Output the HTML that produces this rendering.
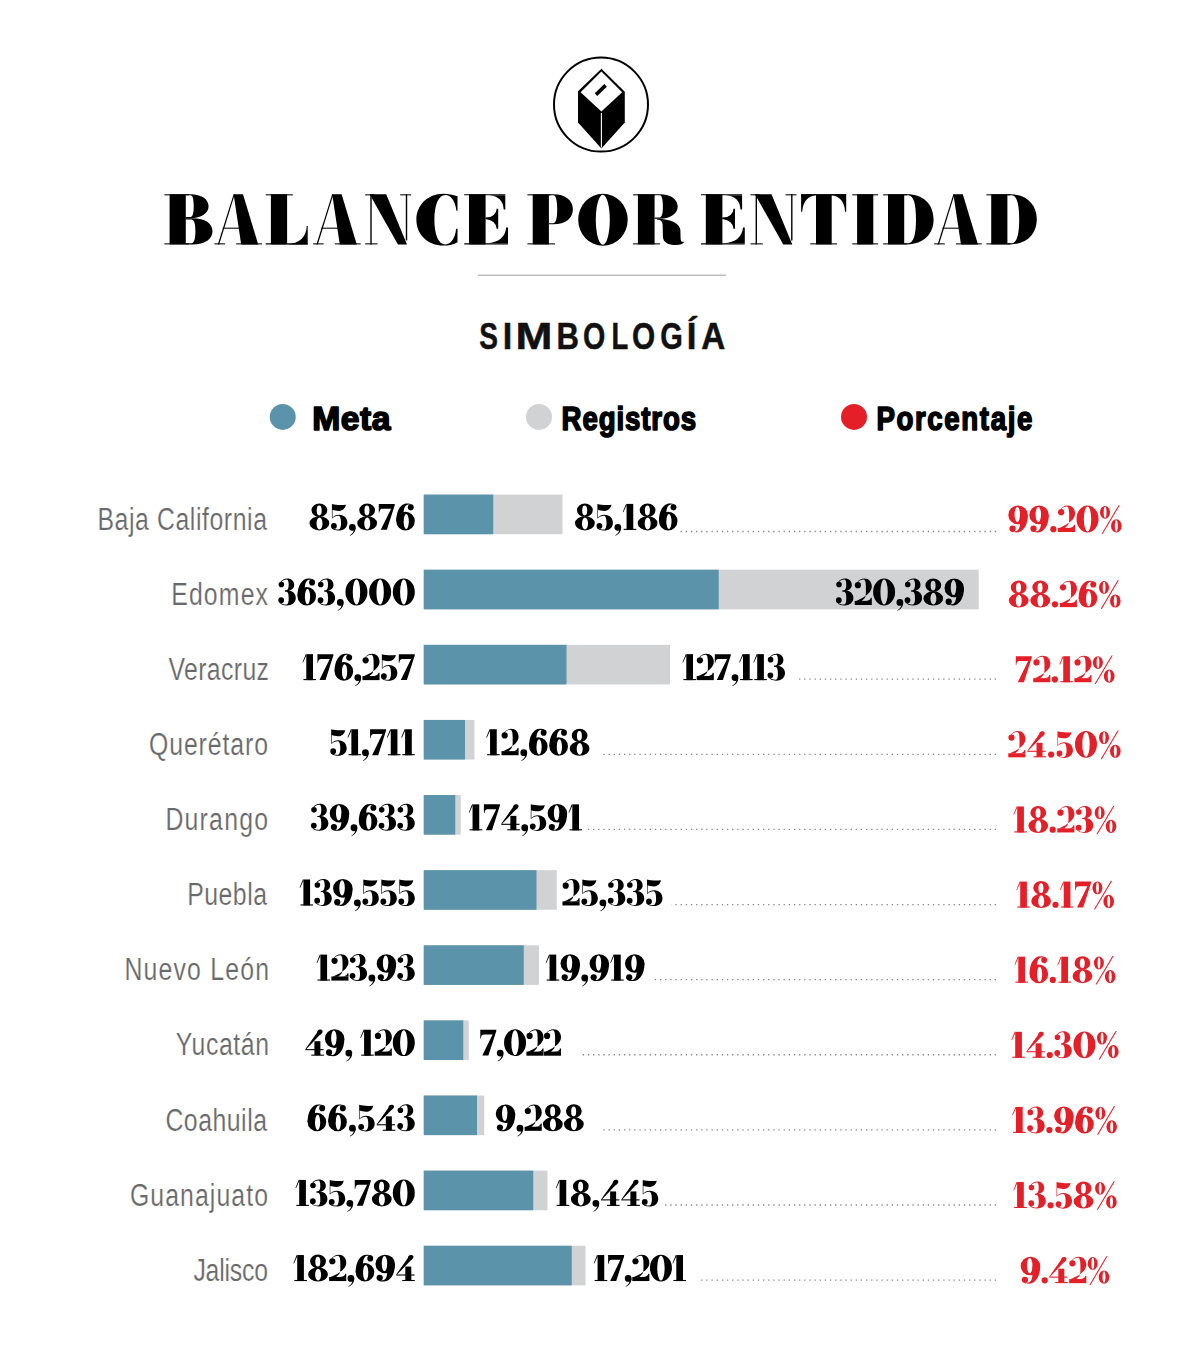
<!DOCTYPE html>
<html><head><meta charset="utf-8"><style>
html,body{margin:0;padding:0;background:#fff;width:1200px;height:1372px;overflow:hidden}
svg{display:block}
.title{font-family:"Liberation Serif",serif;font-weight:700;font-size:71.8px;fill:#000;stroke:#000;stroke-width:2.5px;stroke-linejoin:miter}
.num{font-family:"Liberation Serif",serif;font-weight:700;font-size:37.9px;fill:#000;stroke:#000;stroke-width:0.9px}
.lab{font-family:"Liberation Sans",sans-serif;font-weight:400;font-size:31px;fill:#68696b;stroke:#fff;stroke-width:0.2px}
.simb{font-family:"Liberation Sans",sans-serif;font-weight:700;font-size:37.8px;fill:#111;stroke:#111;stroke-width:0.5px}
.leg{font-family:"Liberation Sans",sans-serif;font-weight:700;font-size:33px;fill:#000;stroke:#000;stroke-width:1.6px;stroke-linejoin:round}
.pct{font-family:"Liberation Serif",serif;font-weight:700;font-size:37.9px;fill:#e3202b;stroke:#e3202b;stroke-width:0.9px}
.dots{stroke:#858585;stroke-width:1.3;stroke-dasharray:1.3 3.85}
</style></head><body>
<svg width="1200" height="1372" viewBox="0 0 1200 1372">
<rect width="1200" height="1372" fill="#fff"/>

<circle cx="601" cy="104.6" r="47" fill="none" stroke="#000" stroke-width="2"/>
<polygon points="601.4,68.8 624.8,91.7 624.8,122.4 601.4,148.6 578,122.4 578,91.3" fill="#000"/>
<polygon points="601.4,71.6 622.2,92.2 601.4,111.6 580.6,92.2" fill="#fff"/>
<line x1="596" y1="94.6" x2="605.6" y2="85.4" stroke="#000" stroke-width="3.6"/>
<line x1="601.4" y1="113" x2="601.4" y2="147.5" stroke="#fff" stroke-width="1.1"/>
<g fill="#000" fill-rule="evenodd"><g transform="matrix(1 0 0 1.002 164.4 194.3)"><path d="M0,0H24.5V1.05H0Z"/><path d="M0,48.95H24.5V50H0Z"/><path d="M5.2,0H21.4V50H5.2Z"/><path d="M21.4,0H26C37,0 44.2,5 44.2,11.9C44.2,18.8 37,23.9 26,23.9H21.4Z M21.4,1.05H26C28.5,1.05 29.3,5.5 29.3,11.9C29.3,18.3 28.5,22.7 26,22.7H21.4Z"/><path d="M21.4,23.9H28C41,23.9 48.1,29.2 48.1,36.9C48.1,44.6 41,50 28,50H21.4Z M21.4,25.1H27C30,25.1 31,30 31,37C31,44 30,48.95 27,48.95H21.4Z"/></g><g transform="matrix(1 0 0 1.002 214.2 194.3)"><path d="M19.4,0H28.8L44,50H27Z"/><path d="M19.4,0H20.6L5.0,50H3.6Z"/><path d="M8.5,33.3H36V34.349999999999994H8.5Z"/><path d="M0.2,48.95H10.8V50H0.2Z"/><path d="M22,48.95H47.8V50H22Z"/></g><g transform="matrix(1 0 0 1.002 265.7 194.3)"><path d="M0,0H27.1V1.05H0Z"/><path d="M5.2,0H21.4V50H5.2Z"/><path d="M0,48.95H42V50H0Z"/><path d="M21,50Q40.5,48.5 41,31.7H42V50Z"/></g><g transform="matrix(1 0 0 1.002 312.8 194.3)"><path d="M19.4,0H28.8L44,50H27Z"/><path d="M19.4,0H20.6L5.0,50H3.6Z"/><path d="M8.5,33.3H36V34.349999999999994H8.5Z"/><path d="M0.2,48.95H10.8V50H0.2Z"/><path d="M22,48.95H47.8V50H22Z"/></g><g transform="matrix(1 0 0 1.002 365.2 194.3)"><path d="M5.1,0H6.5V50H5.1Z"/><path d="M0,48.95H12.3V50H0Z"/><path d="M0,0H9V1.05H0Z"/><path d="M4.4,0H21L41.8,50H32.8Z"/><path d="M40.6,0H42V46H40.6Z"/><path d="M35,0H46V1.05H35Z"/></g><g transform="matrix(1 0 0 1.002 416.4 194.3)"><path d="M41.1,2C36.5,0.2 32,-0.6 27,-0.6C11,-0.6 0,11 0,25.4C0,39.8 11,51.2 27,51.2C33,51.2 37.5,50 41.1,47.8V34.5H39.7C38.8,44 34.5,50 29,50C22,50 18,40 18,25.3C18,10.6 22,0.6 29,0.6C34,0.6 39,6 40,16.5H41.1Z"/></g><g transform="matrix(1 0 0 1.002 464.2 194.3)"><path d="M0,0H41.1V1.05H0Z"/><path d="M4.8,0H21.4V50H4.8Z"/><path d="M25,1.05Q38.5,2 39.5,15.1H41.1V1.05Z"/><path d="M21.4,23.3H33.5V24.35H21.4Z"/><path d="M21.4,23.3Q32,22.5 32.5,14.3H34V34.4H32.5Q32,26 21.4,24.55Z"/><path d="M0,48.95H43.8V50H0Z"/><path d="M23,48.95Q40.5,47.5 42,33.1H43.8V48.95Z"/></g><g transform="matrix(1 0 0 1.002 527.4 194.3)"><path d="M0,0H23.2V1.05H0Z"/><path d="M5.3,0H21.5V50H5.3Z"/><path d="M0,48.95H27.6V50H0Z"/><path d="M21.5,0H26C38,0 45.5,6 45.5,15C45.5,24 38,30 26,30H21.5Z M21.5,1.05H26C28.7,1.05 29.8,7 29.8,15C29.8,23 28.7,28.8 26,28.8H21.5Z"/></g><g transform="matrix(1 0 0 1.002 578.2 194.3)"><path d="M0,25.4A24.75,26 0 1 0 49.5,25.4A24.75,26 0 1 0 0,25.4Z M17.6,25.4A7,24.9 0 1 0 31.6,25.4A7,24.9 0 1 0 17.6,25.4Z"/></g><g transform="matrix(1 0 0 1.002 633.1 194.3)"><path d="M0,0H21.9V1.05H0Z"/><path d="M4.8,0H21.5V50H4.8Z"/><path d="M0,48.95H27.1V50H0Z"/><path d="M21.5,0H27C38,0 44.6,5.5 44.6,12.2C44.6,18.9 38,24.3 27,24.3H21.5Z M21.5,1.05H26.5C29,1.05 29.8,6 29.8,12.2C29.8,18.4 29,23.1 26.5,23.1H21.5Z"/><path d="M24,24.3C38,24.4 47,29 47.3,36L47.5,44C47.6,47 48.6,47.9 51.2,47.3C50,49.6 47,50.6 43,50.6C35,50.6 30,48 29.8,42L29.6,32C29.5,27 28,25.6 24,25.5Z"/></g><g transform="matrix(1 0 0 1.002 701 194.3)"><path d="M0,0H41.1V1.05H0Z"/><path d="M4.8,0H21.4V50H4.8Z"/><path d="M25,1.05Q38.5,2 39.5,15.1H41.1V1.05Z"/><path d="M21.4,23.3H33.5V24.35H21.4Z"/><path d="M21.4,23.3Q32,22.5 32.5,14.3H34V34.4H32.5Q32,26 21.4,24.55Z"/><path d="M0,48.95H43.8V50H0Z"/><path d="M23,48.95Q40.5,47.5 42,33.1H43.8V48.95Z"/></g><g transform="matrix(1 0 0 1.002 750.5 194.3)"><path d="M5.1,0H6.5V50H5.1Z"/><path d="M0,48.95H12.3V50H0Z"/><path d="M0,0H9V1.05H0Z"/><path d="M4.4,0H21L41.8,50H32.8Z"/><path d="M40.6,0H42V46H40.6Z"/><path d="M35,0H46V1.05H35Z"/></g><g transform="matrix(1 0 0 1.002 801.1 194.3)"><path d="M0,0H45.1V1.05H0Z"/><path d="M14.9,0H30.6V50H14.9Z"/><path d="M9.2,48.95H35.9V50H9.2Z"/><path d="M0,0H14.9V1.05Q2.2,2.5 1.1,17.3H0Z"/><path d="M45.1,0H30.2V1.05Q42.9,2.5 44,17.3H45.1Z"/></g><g transform="matrix(1 0 0 1.002 852.3 194.3)"><path d="M0,0H25.8V1.05H0Z"/><path d="M0,48.95H25.8V50H0Z"/><path d="M4.8,0H21V50H4.8Z"/></g><g transform="matrix(1 0 0 1.002 883.2 194.3)"><path d="M0,0H23.7V1.05H0Z"/><path d="M0,48.95H23.7V50H0Z"/><path d="M4.8,0H21V50H4.8Z"/><path d="M21,0H24C40,0 50.4,10 50.4,25C50.4,40 40,50 24,50H21Z M21,1.05H25C30.5,1.05 32.8,10 32.8,25C32.8,40 30.5,48.95 25,48.95H21Z"/></g><g transform="matrix(1 0 0 1.002 934 194.3)"><path d="M19.4,0H28.8L44,50H27Z"/><path d="M19.4,0H20.6L5.0,50H3.6Z"/><path d="M8.5,33.3H36V34.349999999999994H8.5Z"/><path d="M0.2,48.95H10.8V50H0.2Z"/><path d="M22,48.95H47.8V50H22Z"/></g><g transform="matrix(1 0 0 1.002 986.4 194.3)"><path d="M0,0H23.7V1.05H0Z"/><path d="M0,48.95H23.7V50H0Z"/><path d="M4.8,0H21V50H4.8Z"/><path d="M21,0H24C40,0 50.4,10 50.4,25C50.4,40 40,50 24,50H21Z M21,1.05H25C30.5,1.05 32.8,10 32.8,25C32.8,40 30.5,48.95 25,48.95H21Z"/></g></g><line x1="478" y1="275.3" x2="726" y2="275.3" stroke="#bdbebf" stroke-width="1.4"/><text class="simb" transform="matrix(0.7418 0 0 1 479.34 0)" x="0" y="348.75">S</text><text class="simb" transform="matrix(0.8999 0 0 1 502.77 0)" x="0" y="348.75">I</text><text class="simb" transform="matrix(1.1729 0 0 1 515.58 0)" x="0" y="348.75">M</text><text class="simb" transform="matrix(0.8242 0 0 1 556.57 0)" x="0" y="348.75">B</text><text class="simb" transform="matrix(0.7577 0 0 1 582.98 0)" x="0" y="348.75">O</text><text class="simb" transform="matrix(0.7269 0 0 1 611.41 0)" x="0" y="348.75">L</text><text class="simb" transform="matrix(0.7881 0 0 1 632.03 0)" x="0" y="348.75">O</text><text class="simb" transform="matrix(0.7684 0 0 1 660.26 0)" x="0" y="348.75">G</text><text class="simb" transform="matrix(0.9242 0 0 1 686.78 0)" x="0" y="348.75">Í</text><text class="simb" transform="matrix(0.8793 0 0 1 701.22 0)" x="0" y="348.75">A</text><circle cx="282.75" cy="416.9" r="13" fill="#5a93aa"/><circle cx="539" cy="416.9" r="13" fill="#d1d2d4"/><circle cx="854" cy="416.9" r="13" fill="#e41f28"/><text id="lg0" class="leg" transform="matrix(1.02 0 0 1 312.20 0)" x="0" y="430.40" textLength="76.86" lengthAdjust="spacing">Meta</text><text id="lg1" class="leg" transform="matrix(0.84 0 0 1 561.60 0)" x="0" y="430.40" textLength="160.24" lengthAdjust="spacing">Registros</text><text id="lg2" class="leg" transform="matrix(0.84 0 0 1 876.40 0)" x="0" y="430.40" textLength="185.71" lengthAdjust="spacing">Porcentaje</text>
<rect x="423.75" y="494.60" width="138.75" height="39.6" fill="#d1d2d4"/>
<rect x="423.75" y="494.60" width="69.50" height="39.6" fill="#5a93aa"/>
<text id="lab0" class="lab" transform="matrix(0.8 0 0 1 97.40 0)" x="0" y="529.60" textLength="212.00" lengthAdjust="spacing">Baja California</text>
<g fill="#000" fill-rule="evenodd"><g transform="translate(309.50 503.90) scale(1 1.0)"><path d="M2.0,6.3A7.9,6.8 0 1 0 17.8,6.3A7.9,6.8 0 1 0 2.0,6.3Z M7.199999999999999,6.6A2.5,4.9 0 1 0 12.2,6.6A2.5,4.9 0 1 0 7.199999999999999,6.6Z"/><path d="M0.0,19.4A9.9,7.1 0 1 0 19.8,19.4A9.9,7.1 0 1 0 0.0,19.4Z M7,19.6A3,5.9 0 1 0 13,19.6A3,5.9 0 1 0 7,19.6Z"/></g><g transform="translate(330.72 503.90) scale(1 1.0)"><path d="M1.2,0C5,1.2 10,1.3 15.2,0.9C14.5,4.5 12,7 8,7C5.5,7 3.5,6.5 1.8,5.8V14L1.2,14.4Z"/><path d="M1.2,14.4C3,12 5.5,10.9 8.4,10.9C13.5,10.9 16.7,14.5 16.7,19C16.7,23.5 13,26.6 7.8,26.6C4.3,26.6 1.3,25.2 0.6,23.5L1.2,23.3C2.5,24.9 4.8,25.6 7.3,25.6C9.5,25.6 10.3,23 10.3,19C10.3,14.5 9.3,11.9 7.6,11.9C5.2,11.9 3,12.8 1.8,14.4Z"/><path d="M0.30000000000000027,22A2.9,2.9 0 1 0 6.1,22A2.9,2.9 0 1 0 0.30000000000000027,22Z"/></g><g transform="translate(348.84 503.90) scale(1 1.0)"><path d="M0.10000000000000009,23.4A3.4,3.4 0 1 0 6.9,23.4A3.4,3.4 0 1 0 0.10000000000000009,23.4Z"/><path d="M6.6,23.5C7,27 5,30 1.2,31.8L0.9,31.3C3.8,29.5 5,27.5 5,25Z"/></g><g transform="translate(357.26 503.90) scale(1 1.0)"><path d="M2.0,6.3A7.9,6.8 0 1 0 17.8,6.3A7.9,6.8 0 1 0 2.0,6.3Z M7.199999999999999,6.6A2.5,4.9 0 1 0 12.2,6.6A2.5,4.9 0 1 0 7.199999999999999,6.6Z"/><path d="M0.0,19.4A9.9,7.1 0 1 0 19.8,19.4A9.9,7.1 0 1 0 0.0,19.4Z M7,19.6A3,5.9 0 1 0 13,19.6A3,5.9 0 1 0 7,19.6Z"/></g><g transform="translate(378.48 503.90) scale(1 1.0)"><path d="M0.3,0H16.3V1.2L8.4,25.9H2.3L12.6,4.8H4C2,4.8 1,6 0.9,8.7H0.3Z"/></g><g transform="translate(396.20 503.90) scale(1 1.0)"><g transform="matrix(0.9538 0 0 1 0 0) rotate(180 9.75 13.05)"><path d="M0.0,8.9A9.75,9.3 0 1 0 19.5,8.9A9.75,9.3 0 1 0 0.0,8.9Z M6.25,8.5A2.75,7.6 0 1 0 11.75,8.5A2.75,7.6 0 1 0 6.25,8.5Z"/><path d="M19.5,9C19.5,19 15,26.5 8,26.5C6,26.5 4.5,26.2 3.5,25.6L3.8,25C5,25.5 6.5,25.4 7.5,25.3C10.5,24.8 11.9,21 11.9,15L11.9,9Z"/><path d="M1.1,22.7A3.1,3.1 0 1 0 7.300000000000001,22.7A3.1,3.1 0 1 0 1.1,22.7Z"/></g></g></g>
<g fill="#000" fill-rule="evenodd"><g transform="translate(575.00 503.90) scale(1 1.0)"><path d="M2.0,6.3A7.9,6.8 0 1 0 17.8,6.3A7.9,6.8 0 1 0 2.0,6.3Z M7.199999999999999,6.6A2.5,4.9 0 1 0 12.2,6.6A2.5,4.9 0 1 0 7.199999999999999,6.6Z"/><path d="M0.0,19.4A9.9,7.1 0 1 0 19.8,19.4A9.9,7.1 0 1 0 0.0,19.4Z M7,19.6A3,5.9 0 1 0 13,19.6A3,5.9 0 1 0 7,19.6Z"/></g><g transform="translate(596.22 503.90) scale(1 1.0)"><path d="M1.2,0C5,1.2 10,1.3 15.2,0.9C14.5,4.5 12,7 8,7C5.5,7 3.5,6.5 1.8,5.8V14L1.2,14.4Z"/><path d="M1.2,14.4C3,12 5.5,10.9 8.4,10.9C13.5,10.9 16.7,14.5 16.7,19C16.7,23.5 13,26.6 7.8,26.6C4.3,26.6 1.3,25.2 0.6,23.5L1.2,23.3C2.5,24.9 4.8,25.6 7.3,25.6C9.5,25.6 10.3,23 10.3,19C10.3,14.5 9.3,11.9 7.6,11.9C5.2,11.9 3,12.8 1.8,14.4Z"/><path d="M0.30000000000000027,22A2.9,2.9 0 1 0 6.1,22A2.9,2.9 0 1 0 0.30000000000000027,22Z"/></g><g transform="translate(614.34 503.90) scale(1 1.0)"><path d="M0.10000000000000009,23.4A3.4,3.4 0 1 0 6.9,23.4A3.4,3.4 0 1 0 0.10000000000000009,23.4Z"/><path d="M6.6,23.5C7,27 5,30 1.2,31.8L0.9,31.3C3.8,29.5 5,27.5 5,25Z"/></g><g transform="translate(622.76 503.90) scale(1 1.0)"><path d="M3.8,0H10.5V26H3.8Z"/><path d="M3.8,0V1.4L0.6,8.4L0,8.1L3.3,0Z"/><path d="M0.9,24.9H13.5V26H0.9Z"/></g><g transform="translate(637.68 503.90) scale(1 1.0)"><path d="M2.0,6.3A7.9,6.8 0 1 0 17.8,6.3A7.9,6.8 0 1 0 2.0,6.3Z M7.199999999999999,6.6A2.5,4.9 0 1 0 12.2,6.6A2.5,4.9 0 1 0 7.199999999999999,6.6Z"/><path d="M0.0,19.4A9.9,7.1 0 1 0 19.8,19.4A9.9,7.1 0 1 0 0.0,19.4Z M7,19.6A3,5.9 0 1 0 13,19.6A3,5.9 0 1 0 7,19.6Z"/></g><g transform="translate(658.90 503.90) scale(1 1.0)"><g transform="matrix(0.9538 0 0 1 0 0) rotate(180 9.75 13.05)"><path d="M0.0,8.9A9.75,9.3 0 1 0 19.5,8.9A9.75,9.3 0 1 0 0.0,8.9Z M6.25,8.5A2.75,7.6 0 1 0 11.75,8.5A2.75,7.6 0 1 0 6.25,8.5Z"/><path d="M19.5,9C19.5,19 15,26.5 8,26.5C6,26.5 4.5,26.2 3.5,25.6L3.8,25C5,25.5 6.5,25.4 7.5,25.3C10.5,24.8 11.9,21 11.9,15L11.9,9Z"/><path d="M1.1,22.7A3.1,3.1 0 1 0 7.300000000000001,22.7A3.1,3.1 0 1 0 1.1,22.7Z"/></g></g></g>
<g fill="#e41f28" fill-rule="evenodd"><g transform="translate(1008.30 506.00) scale(1 1.0)"><path d="M0.0,8.9A9.75,9.3 0 1 0 19.5,8.9A9.75,9.3 0 1 0 0.0,8.9Z M6.25,8.5A2.75,7.6 0 1 0 11.75,8.5A2.75,7.6 0 1 0 6.25,8.5Z"/><path d="M19.5,9C19.5,19 15,26.5 8,26.5C6,26.5 4.5,26.2 3.5,25.6L3.8,25C5,25.5 6.5,25.4 7.5,25.3C10.5,24.8 11.9,21 11.9,15L11.9,9Z"/><path d="M1.1,22.7A3.1,3.1 0 1 0 7.300000000000001,22.7A3.1,3.1 0 1 0 1.1,22.7Z"/></g><g transform="translate(1029.28 506.00) scale(1 1.0)"><path d="M0.0,8.9A9.75,9.3 0 1 0 19.5,8.9A9.75,9.3 0 1 0 0.0,8.9Z M6.25,8.5A2.75,7.6 0 1 0 11.75,8.5A2.75,7.6 0 1 0 6.25,8.5Z"/><path d="M19.5,9C19.5,19 15,26.5 8,26.5C6,26.5 4.5,26.2 3.5,25.6L3.8,25C5,25.5 6.5,25.4 7.5,25.3C10.5,24.8 11.9,21 11.9,15L11.9,9Z"/><path d="M1.1,22.7A3.1,3.1 0 1 0 7.300000000000001,22.7A3.1,3.1 0 1 0 1.1,22.7Z"/></g><g transform="translate(1050.26 506.00) scale(1 1.0)"><path d="M0.0,23.2A3.1,3.1 0 1 0 6.2,23.2A3.1,3.1 0 1 0 0.0,23.2Z"/></g><g transform="translate(1057.94 506.00) scale(1 1.0)"><path d="M0.10000000000000009,6.2A3.1,3.1 0 1 0 6.300000000000001,6.2A3.1,3.1 0 1 0 0.10000000000000009,6.2Z"/><path d="M2.5,3.3C4,1 6.8,-0.4 9.5,-0.4C14.2,-0.4 17.1,3 17.1,7.6C17.1,12.5 13,15.6 8.5,18.6L1.2,22.2H6.8L9.8,19.3C11.5,17.5 11.2,13 11.2,8C11.2,3 10.3,0.6 8.8,0.6C6.5,0.6 4.5,1.5 3.2,3.4Z"/><path d="M0,21.9H17.1V26H0Z"/><path d="M10.5,22Q15.8,21.7 16.1,18.7H17.1V22Z"/></g><g transform="translate(1076.52 506.00) scale(1 1.0)"><path d="M0,13A11,13.4 0 1 0 22,13A11,13.4 0 1 0 0,13Z M7.3,13A3.7,12.4 0 1 0 14.7,13A3.7,12.4 0 1 0 7.3,13Z"/></g><g transform="translate(1100.00 506.00) scale(1 1.0)"><path d="M0,6.3A5,6.4 0 1 0 10,6.3A5,6.4 0 1 0 0,6.3Z M3.6999999999999997,6.3A1.4,5.6 0 1 0 6.5,6.3A1.4,5.6 0 1 0 3.6999999999999997,6.3Z"/><path d="M11.0,19.9A5.3,6.6 0 1 0 21.6,19.9A5.3,6.6 0 1 0 11.0,19.9Z M14.8,19.9A1.5,5.8 0 1 0 17.8,19.9A1.5,5.8 0 1 0 14.8,19.9Z"/><path d="M18.6,-0.8H19.8L2.8,27.8H1.6Z"/></g></g>
<line x1="996.05" y1="531.50" x2="678.60" y2="531.50" class="dots"/>
<rect x="423.75" y="569.72" width="554.95" height="39.6" fill="#d1d2d4"/>
<rect x="423.75" y="569.72" width="294.95" height="39.6" fill="#5a93aa"/>
<text id="lab1" class="lab" transform="matrix(0.8 0 0 1 171.20 0)" x="0" y="604.72" textLength="121.00" lengthAdjust="spacing">Edomex</text>
<g fill="#000" fill-rule="evenodd"><g transform="translate(278.40 579.01) scale(1 1.0)"><path d="M0.20000000000000018,5.5A2.8,2.8 0 1 0 5.8,5.5A2.8,2.8 0 1 0 0.20000000000000018,5.5Z"/><path d="M-0.10000000000000009,21.2A2.9,2.9 0 1 0 5.699999999999999,21.2A2.9,2.9 0 1 0 -0.10000000000000009,21.2Z"/><path d="M2.2,3C3.5,1 6,-0.5 9,-0.5C13,-0.5 15.8,2.2 15.8,5.8C15.8,9 13.5,11.2 10,11.9V12.5H6.5V11.6H7.5C9.5,11.3 10.3,9 10.3,5.8C10.3,2.3 9.5,0.5 8.3,0.5C6,0.5 4,1.5 3,3.2Z"/><path d="M6.5,11.6H10C14.5,12 17.4,15 17.4,19C17.4,23.5 13.5,26.5 8.5,26.5C5,26.5 2,25.2 1.2,23.4L1.8,23.2C3,24.8 5.5,25.5 7.8,25.5C9.8,25.5 10.3,23 10.3,19C10.3,15 9.5,12.6 7.5,12.6H6.5Z"/></g><g transform="translate(297.47 579.01) scale(1 1.0)"><g transform="matrix(0.9538 0 0 1 0 0) rotate(180 9.75 13.05)"><path d="M0.0,8.9A9.75,9.3 0 1 0 19.5,8.9A9.75,9.3 0 1 0 0.0,8.9Z M6.25,8.5A2.75,7.6 0 1 0 11.75,8.5A2.75,7.6 0 1 0 6.25,8.5Z"/><path d="M19.5,9C19.5,19 15,26.5 8,26.5C6,26.5 4.5,26.2 3.5,25.6L3.8,25C5,25.5 6.5,25.4 7.5,25.3C10.5,24.8 11.9,21 11.9,15L11.9,9Z"/><path d="M1.1,22.7A3.1,3.1 0 1 0 7.300000000000001,22.7A3.1,3.1 0 1 0 1.1,22.7Z"/></g></g><g transform="translate(317.73 579.01) scale(1 1.0)"><path d="M0.20000000000000018,5.5A2.8,2.8 0 1 0 5.8,5.5A2.8,2.8 0 1 0 0.20000000000000018,5.5Z"/><path d="M-0.10000000000000009,21.2A2.9,2.9 0 1 0 5.699999999999999,21.2A2.9,2.9 0 1 0 -0.10000000000000009,21.2Z"/><path d="M2.2,3C3.5,1 6,-0.5 9,-0.5C13,-0.5 15.8,2.2 15.8,5.8C15.8,9 13.5,11.2 10,11.9V12.5H6.5V11.6H7.5C9.5,11.3 10.3,9 10.3,5.8C10.3,2.3 9.5,0.5 8.3,0.5C6,0.5 4,1.5 3,3.2Z"/><path d="M6.5,11.6H10C14.5,12 17.4,15 17.4,19C17.4,23.5 13.5,26.5 8.5,26.5C5,26.5 2,25.2 1.2,23.4L1.8,23.2C3,24.8 5.5,25.5 7.8,25.5C9.8,25.5 10.3,23 10.3,19C10.3,15 9.5,12.6 7.5,12.6H6.5Z"/></g><g transform="translate(336.80 579.01) scale(1 1.0)"><path d="M0.10000000000000009,23.4A3.4,3.4 0 1 0 6.9,23.4A3.4,3.4 0 1 0 0.10000000000000009,23.4Z"/><path d="M6.6,23.5C7,27 5,30 1.2,31.8L0.9,31.3C3.8,29.5 5,27.5 5,25Z"/></g><g transform="translate(345.47 579.01) scale(1 1.0)"><path d="M0,13A11,13.4 0 1 0 22,13A11,13.4 0 1 0 0,13Z M7.3,13A3.7,12.4 0 1 0 14.7,13A3.7,12.4 0 1 0 7.3,13Z"/></g><g transform="translate(369.13 579.01) scale(1 1.0)"><path d="M0,13A11,13.4 0 1 0 22,13A11,13.4 0 1 0 0,13Z M7.3,13A3.7,12.4 0 1 0 14.7,13A3.7,12.4 0 1 0 7.3,13Z"/></g><g transform="translate(392.80 579.01) scale(1 1.0)"><path d="M0,13A11,13.4 0 1 0 22,13A11,13.4 0 1 0 0,13Z M7.3,13A3.7,12.4 0 1 0 14.7,13A3.7,12.4 0 1 0 7.3,13Z"/></g></g>
<g fill="#000" fill-rule="evenodd"><g transform="translate(836.00 579.01) scale(1 1.0)"><path d="M0.20000000000000018,5.5A2.8,2.8 0 1 0 5.8,5.5A2.8,2.8 0 1 0 0.20000000000000018,5.5Z"/><path d="M-0.10000000000000009,21.2A2.9,2.9 0 1 0 5.699999999999999,21.2A2.9,2.9 0 1 0 -0.10000000000000009,21.2Z"/><path d="M2.2,3C3.5,1 6,-0.5 9,-0.5C13,-0.5 15.8,2.2 15.8,5.8C15.8,9 13.5,11.2 10,11.9V12.5H6.5V11.6H7.5C9.5,11.3 10.3,9 10.3,5.8C10.3,2.3 9.5,0.5 8.3,0.5C6,0.5 4,1.5 3,3.2Z"/><path d="M6.5,11.6H10C14.5,12 17.4,15 17.4,19C17.4,23.5 13.5,26.5 8.5,26.5C5,26.5 2,25.2 1.2,23.4L1.8,23.2C3,24.8 5.5,25.5 7.8,25.5C9.8,25.5 10.3,23 10.3,19C10.3,15 9.5,12.6 7.5,12.6H6.5Z"/></g><g transform="translate(854.70 579.01) scale(1 1.0)"><path d="M0.10000000000000009,6.2A3.1,3.1 0 1 0 6.300000000000001,6.2A3.1,3.1 0 1 0 0.10000000000000009,6.2Z"/><path d="M2.5,3.3C4,1 6.8,-0.4 9.5,-0.4C14.2,-0.4 17.1,3 17.1,7.6C17.1,12.5 13,15.6 8.5,18.6L1.2,22.2H6.8L9.8,19.3C11.5,17.5 11.2,13 11.2,8C11.2,3 10.3,0.6 8.8,0.6C6.5,0.6 4.5,1.5 3.2,3.4Z"/><path d="M0,21.9H17.1V26H0Z"/><path d="M10.5,22Q15.8,21.7 16.1,18.7H17.1V22Z"/></g><g transform="translate(873.10 579.01) scale(1 1.0)"><path d="M0,13A11,13.4 0 1 0 22,13A11,13.4 0 1 0 0,13Z M7.3,13A3.7,12.4 0 1 0 14.7,13A3.7,12.4 0 1 0 7.3,13Z"/></g><g transform="translate(896.40 579.01) scale(1 1.0)"><path d="M0.10000000000000009,23.4A3.4,3.4 0 1 0 6.9,23.4A3.4,3.4 0 1 0 0.10000000000000009,23.4Z"/><path d="M6.6,23.5C7,27 5,30 1.2,31.8L0.9,31.3C3.8,29.5 5,27.5 5,25Z"/></g><g transform="translate(904.70 579.01) scale(1 1.0)"><path d="M0.20000000000000018,5.5A2.8,2.8 0 1 0 5.8,5.5A2.8,2.8 0 1 0 0.20000000000000018,5.5Z"/><path d="M-0.10000000000000009,21.2A2.9,2.9 0 1 0 5.699999999999999,21.2A2.9,2.9 0 1 0 -0.10000000000000009,21.2Z"/><path d="M2.2,3C3.5,1 6,-0.5 9,-0.5C13,-0.5 15.8,2.2 15.8,5.8C15.8,9 13.5,11.2 10,11.9V12.5H6.5V11.6H7.5C9.5,11.3 10.3,9 10.3,5.8C10.3,2.3 9.5,0.5 8.3,0.5C6,0.5 4,1.5 3,3.2Z"/><path d="M6.5,11.6H10C14.5,12 17.4,15 17.4,19C17.4,23.5 13.5,26.5 8.5,26.5C5,26.5 2,25.2 1.2,23.4L1.8,23.2C3,24.8 5.5,25.5 7.8,25.5C9.8,25.5 10.3,23 10.3,19C10.3,15 9.5,12.6 7.5,12.6H6.5Z"/></g><g transform="translate(923.40 579.01) scale(1 1.0)"><path d="M2.0,6.3A7.9,6.8 0 1 0 17.8,6.3A7.9,6.8 0 1 0 2.0,6.3Z M7.199999999999999,6.6A2.5,4.9 0 1 0 12.2,6.6A2.5,4.9 0 1 0 7.199999999999999,6.6Z"/><path d="M0.0,19.4A9.9,7.1 0 1 0 19.8,19.4A9.9,7.1 0 1 0 0.0,19.4Z M7,19.6A3,5.9 0 1 0 13,19.6A3,5.9 0 1 0 7,19.6Z"/></g><g transform="translate(944.50 579.01) scale(1 1.0)"><path d="M0.0,8.9A9.75,9.3 0 1 0 19.5,8.9A9.75,9.3 0 1 0 0.0,8.9Z M6.25,8.5A2.75,7.6 0 1 0 11.75,8.5A2.75,7.6 0 1 0 6.25,8.5Z"/><path d="M19.5,9C19.5,19 15,26.5 8,26.5C6,26.5 4.5,26.2 3.5,25.6L3.8,25C5,25.5 6.5,25.4 7.5,25.3C10.5,24.8 11.9,21 11.9,15L11.9,9Z"/><path d="M1.1,22.7A3.1,3.1 0 1 0 7.300000000000001,22.7A3.1,3.1 0 1 0 1.1,22.7Z"/></g></g>
<g fill="#e41f28" fill-rule="evenodd"><g transform="translate(1008.80 581.12) scale(1 1.0)"><path d="M2.0,6.3A7.9,6.8 0 1 0 17.8,6.3A7.9,6.8 0 1 0 2.0,6.3Z M7.199999999999999,6.6A2.5,4.9 0 1 0 12.2,6.6A2.5,4.9 0 1 0 7.199999999999999,6.6Z"/><path d="M0.0,19.4A9.9,7.1 0 1 0 19.8,19.4A9.9,7.1 0 1 0 0.0,19.4Z M7,19.6A3,5.9 0 1 0 13,19.6A3,5.9 0 1 0 7,19.6Z"/></g><g transform="translate(1030.34 581.12) scale(1 1.0)"><path d="M2.0,6.3A7.9,6.8 0 1 0 17.8,6.3A7.9,6.8 0 1 0 2.0,6.3Z M7.199999999999999,6.6A2.5,4.9 0 1 0 12.2,6.6A2.5,4.9 0 1 0 7.199999999999999,6.6Z"/><path d="M0.0,19.4A9.9,7.1 0 1 0 19.8,19.4A9.9,7.1 0 1 0 0.0,19.4Z M7,19.6A3,5.9 0 1 0 13,19.6A3,5.9 0 1 0 7,19.6Z"/></g><g transform="translate(1051.88 581.12) scale(1 1.0)"><path d="M0.0,23.2A3.1,3.1 0 1 0 6.2,23.2A3.1,3.1 0 1 0 0.0,23.2Z"/></g><g transform="translate(1059.82 581.12) scale(1 1.0)"><path d="M0.10000000000000009,6.2A3.1,3.1 0 1 0 6.300000000000001,6.2A3.1,3.1 0 1 0 0.10000000000000009,6.2Z"/><path d="M2.5,3.3C4,1 6.8,-0.4 9.5,-0.4C14.2,-0.4 17.1,3 17.1,7.6C17.1,12.5 13,15.6 8.5,18.6L1.2,22.2H6.8L9.8,19.3C11.5,17.5 11.2,13 11.2,8C11.2,3 10.3,0.6 8.8,0.6C6.5,0.6 4.5,1.5 3.2,3.4Z"/><path d="M0,21.9H17.1V26H0Z"/><path d="M10.5,22Q15.8,21.7 16.1,18.7H17.1V22Z"/></g><g transform="translate(1078.66 581.12) scale(1 1.0)"><g transform="matrix(0.9538 0 0 1 0 0) rotate(180 9.75 13.05)"><path d="M0.0,8.9A9.75,9.3 0 1 0 19.5,8.9A9.75,9.3 0 1 0 0.0,8.9Z M6.25,8.5A2.75,7.6 0 1 0 11.75,8.5A2.75,7.6 0 1 0 6.25,8.5Z"/><path d="M19.5,9C19.5,19 15,26.5 8,26.5C6,26.5 4.5,26.2 3.5,25.6L3.8,25C5,25.5 6.5,25.4 7.5,25.3C10.5,24.8 11.9,21 11.9,15L11.9,9Z"/><path d="M1.1,22.7A3.1,3.1 0 1 0 7.300000000000001,22.7A3.1,3.1 0 1 0 1.1,22.7Z"/></g></g><g transform="translate(1099.00 581.12) scale(1 1.0)"><path d="M0,6.3A5,6.4 0 1 0 10,6.3A5,6.4 0 1 0 0,6.3Z M3.6999999999999997,6.3A1.4,5.6 0 1 0 6.5,6.3A1.4,5.6 0 1 0 3.6999999999999997,6.3Z"/><path d="M11.0,19.9A5.3,6.6 0 1 0 21.6,19.9A5.3,6.6 0 1 0 11.0,19.9Z M14.8,19.9A1.5,5.8 0 1 0 17.8,19.9A1.5,5.8 0 1 0 14.8,19.9Z"/><path d="M18.6,-0.8H19.8L2.8,27.8H1.6Z"/></g></g>
<rect x="423.75" y="644.83" width="246.25" height="39.6" fill="#d1d2d4"/>
<rect x="423.75" y="644.83" width="142.75" height="39.6" fill="#5a93aa"/>
<text id="lab2" class="lab" transform="matrix(0.8 0 0 1 168.40 0)" x="0" y="679.83" textLength="125.75" lengthAdjust="spacing">Veracruz</text>
<g fill="#000" fill-rule="evenodd"><g transform="translate(302.50 654.13) scale(1 1.0)"><path d="M3.8,0H10.5V26H3.8Z"/><path d="M3.8,0V1.4L0.6,8.4L0,8.1L3.3,0Z"/><path d="M0.9,24.9H13.5V26H0.9Z"/></g><g transform="translate(317.13 654.13) scale(1 1.0)"><path d="M0.3,0H16.3V1.2L8.4,25.9H2.3L12.6,4.8H4C2,4.8 1,6 0.9,8.7H0.3Z"/></g><g transform="translate(334.57 654.13) scale(1 1.0)"><g transform="matrix(0.9538 0 0 1 0 0) rotate(180 9.75 13.05)"><path d="M0.0,8.9A9.75,9.3 0 1 0 19.5,8.9A9.75,9.3 0 1 0 0.0,8.9Z M6.25,8.5A2.75,7.6 0 1 0 11.75,8.5A2.75,7.6 0 1 0 6.25,8.5Z"/><path d="M19.5,9C19.5,19 15,26.5 8,26.5C6,26.5 4.5,26.2 3.5,25.6L3.8,25C5,25.5 6.5,25.4 7.5,25.3C10.5,24.8 11.9,21 11.9,15L11.9,9Z"/><path d="M1.1,22.7A3.1,3.1 0 1 0 7.300000000000001,22.7A3.1,3.1 0 1 0 1.1,22.7Z"/></g></g><g transform="translate(354.30 654.13) scale(1 1.0)"><path d="M0.10000000000000009,23.4A3.4,3.4 0 1 0 6.9,23.4A3.4,3.4 0 1 0 0.10000000000000009,23.4Z"/><path d="M6.6,23.5C7,27 5,30 1.2,31.8L0.9,31.3C3.8,29.5 5,27.5 5,25Z"/></g><g transform="translate(362.43 654.13) scale(1 1.0)"><path d="M0.10000000000000009,6.2A3.1,3.1 0 1 0 6.300000000000001,6.2A3.1,3.1 0 1 0 0.10000000000000009,6.2Z"/><path d="M2.5,3.3C4,1 6.8,-0.4 9.5,-0.4C14.2,-0.4 17.1,3 17.1,7.6C17.1,12.5 13,15.6 8.5,18.6L1.2,22.2H6.8L9.8,19.3C11.5,17.5 11.2,13 11.2,8C11.2,3 10.3,0.6 8.8,0.6C6.5,0.6 4.5,1.5 3.2,3.4Z"/><path d="M0,21.9H17.1V26H0Z"/><path d="M10.5,22Q15.8,21.7 16.1,18.7H17.1V22Z"/></g><g transform="translate(380.67 654.13) scale(1 1.0)"><path d="M1.2,0C5,1.2 10,1.3 15.2,0.9C14.5,4.5 12,7 8,7C5.5,7 3.5,6.5 1.8,5.8V14L1.2,14.4Z"/><path d="M1.2,14.4C3,12 5.5,10.9 8.4,10.9C13.5,10.9 16.7,14.5 16.7,19C16.7,23.5 13,26.6 7.8,26.6C4.3,26.6 1.3,25.2 0.6,23.5L1.2,23.3C2.5,24.9 4.8,25.6 7.3,25.6C9.5,25.6 10.3,23 10.3,19C10.3,14.5 9.3,11.9 7.6,11.9C5.2,11.9 3,12.8 1.8,14.4Z"/><path d="M0.30000000000000027,22A2.9,2.9 0 1 0 6.1,22A2.9,2.9 0 1 0 0.30000000000000027,22Z"/></g><g transform="translate(398.50 654.13) scale(1 1.0)"><path d="M0.3,0H16.3V1.2L8.4,25.9H2.3L12.6,4.8H4C2,4.8 1,6 0.9,8.7H0.3Z"/></g></g>
<g fill="#000" fill-rule="evenodd"><g transform="translate(682.50 654.13) scale(1 1.0)"><path d="M3.8,0H10.5V26H3.8Z"/><path d="M3.8,0V1.4L0.6,8.4L0,8.1L3.3,0Z"/><path d="M0.9,24.9H13.5V26H0.9Z"/></g><g transform="translate(696.70 654.13) scale(1 1.0)"><path d="M0.10000000000000009,6.2A3.1,3.1 0 1 0 6.300000000000001,6.2A3.1,3.1 0 1 0 0.10000000000000009,6.2Z"/><path d="M2.5,3.3C4,1 6.8,-0.4 9.5,-0.4C14.2,-0.4 17.1,3 17.1,7.6C17.1,12.5 13,15.6 8.5,18.6L1.2,22.2H6.8L9.8,19.3C11.5,17.5 11.2,13 11.2,8C11.2,3 10.3,0.6 8.8,0.6C6.5,0.6 4.5,1.5 3.2,3.4Z"/><path d="M0,21.9H17.1V26H0Z"/><path d="M10.5,22Q15.8,21.7 16.1,18.7H17.1V22Z"/></g><g transform="translate(714.50 654.13) scale(1 1.0)"><path d="M0.3,0H16.3V1.2L8.4,25.9H2.3L12.6,4.8H4C2,4.8 1,6 0.9,8.7H0.3Z"/></g><g transform="translate(731.50 654.13) scale(1 1.0)"><path d="M0.10000000000000009,23.4A3.4,3.4 0 1 0 6.9,23.4A3.4,3.4 0 1 0 0.10000000000000009,23.4Z"/><path d="M6.6,23.5C7,27 5,30 1.2,31.8L0.9,31.3C3.8,29.5 5,27.5 5,25Z"/></g><g transform="translate(739.20 654.13) scale(1 1.0)"><path d="M3.8,0H10.5V26H3.8Z"/><path d="M3.8,0V1.4L0.6,8.4L0,8.1L3.3,0Z"/><path d="M0.9,24.9H13.5V26H0.9Z"/></g><g transform="translate(753.40 654.13) scale(1 1.0)"><path d="M3.8,0H10.5V26H3.8Z"/><path d="M3.8,0V1.4L0.6,8.4L0,8.1L3.3,0Z"/><path d="M0.9,24.9H13.5V26H0.9Z"/></g><g transform="translate(767.60 654.13) scale(1 1.0)"><path d="M0.20000000000000018,5.5A2.8,2.8 0 1 0 5.8,5.5A2.8,2.8 0 1 0 0.20000000000000018,5.5Z"/><path d="M-0.10000000000000009,21.2A2.9,2.9 0 1 0 5.699999999999999,21.2A2.9,2.9 0 1 0 -0.10000000000000009,21.2Z"/><path d="M2.2,3C3.5,1 6,-0.5 9,-0.5C13,-0.5 15.8,2.2 15.8,5.8C15.8,9 13.5,11.2 10,11.9V12.5H6.5V11.6H7.5C9.5,11.3 10.3,9 10.3,5.8C10.3,2.3 9.5,0.5 8.3,0.5C6,0.5 4,1.5 3,3.2Z"/><path d="M6.5,11.6H10C14.5,12 17.4,15 17.4,19C17.4,23.5 13.5,26.5 8.5,26.5C5,26.5 2,25.2 1.2,23.4L1.8,23.2C3,24.8 5.5,25.5 7.8,25.5C9.8,25.5 10.3,23 10.3,19C10.3,15 9.5,12.6 7.5,12.6H6.5Z"/></g></g>
<g fill="#e41f28" fill-rule="evenodd"><g transform="translate(1015.50 656.23) scale(1 1.0)"><path d="M0.3,0H16.3V1.2L8.4,25.9H2.3L12.6,4.8H4C2,4.8 1,6 0.9,8.7H0.3Z"/></g><g transform="translate(1033.24 656.23) scale(1 1.0)"><path d="M0.10000000000000009,6.2A3.1,3.1 0 1 0 6.300000000000001,6.2A3.1,3.1 0 1 0 0.10000000000000009,6.2Z"/><path d="M2.5,3.3C4,1 6.8,-0.4 9.5,-0.4C14.2,-0.4 17.1,3 17.1,7.6C17.1,12.5 13,15.6 8.5,18.6L1.2,22.2H6.8L9.8,19.3C11.5,17.5 11.2,13 11.2,8C11.2,3 10.3,0.6 8.8,0.6C6.5,0.6 4.5,1.5 3.2,3.4Z"/><path d="M0,21.9H17.1V26H0Z"/><path d="M10.5,22Q15.8,21.7 16.1,18.7H17.1V22Z"/></g><g transform="translate(1051.78 656.23) scale(1 1.0)"><path d="M0.0,23.2A3.1,3.1 0 1 0 6.2,23.2A3.1,3.1 0 1 0 0.0,23.2Z"/></g><g transform="translate(1059.42 656.23) scale(1 1.0)"><path d="M3.8,0H10.5V26H3.8Z"/><path d="M3.8,0V1.4L0.6,8.4L0,8.1L3.3,0Z"/><path d="M0.9,24.9H13.5V26H0.9Z"/></g><g transform="translate(1074.36 656.23) scale(1 1.0)"><path d="M0.10000000000000009,6.2A3.1,3.1 0 1 0 6.300000000000001,6.2A3.1,3.1 0 1 0 0.10000000000000009,6.2Z"/><path d="M2.5,3.3C4,1 6.8,-0.4 9.5,-0.4C14.2,-0.4 17.1,3 17.1,7.6C17.1,12.5 13,15.6 8.5,18.6L1.2,22.2H6.8L9.8,19.3C11.5,17.5 11.2,13 11.2,8C11.2,3 10.3,0.6 8.8,0.6C6.5,0.6 4.5,1.5 3.2,3.4Z"/><path d="M0,21.9H17.1V26H0Z"/><path d="M10.5,22Q15.8,21.7 16.1,18.7H17.1V22Z"/></g><g transform="translate(1092.90 656.23) scale(1 1.0)"><path d="M0,6.3A5,6.4 0 1 0 10,6.3A5,6.4 0 1 0 0,6.3Z M3.6999999999999997,6.3A1.4,5.6 0 1 0 6.5,6.3A1.4,5.6 0 1 0 3.6999999999999997,6.3Z"/><path d="M11.0,19.9A5.3,6.6 0 1 0 21.6,19.9A5.3,6.6 0 1 0 11.0,19.9Z M14.8,19.9A1.5,5.8 0 1 0 17.8,19.9A1.5,5.8 0 1 0 14.8,19.9Z"/><path d="M18.6,-0.8H19.8L2.8,27.8H1.6Z"/></g></g>
<line x1="996.05" y1="679.19" x2="795.40" y2="679.19" class="dots"/>
<rect x="423.75" y="719.94" width="50.75" height="39.6" fill="#d1d2d4"/>
<rect x="423.75" y="719.94" width="41.25" height="39.6" fill="#5a93aa"/>
<text id="lab3" class="lab" transform="matrix(0.8 0 0 1 149.00 0)" x="0" y="754.94" textLength="148.75" lengthAdjust="spacing">Querétaro</text>
<g fill="#000" fill-rule="evenodd"><g transform="translate(330.00 729.24) scale(1 1.0)"><path d="M1.2,0C5,1.2 10,1.3 15.2,0.9C14.5,4.5 12,7 8,7C5.5,7 3.5,6.5 1.8,5.8V14L1.2,14.4Z"/><path d="M1.2,14.4C3,12 5.5,10.9 8.4,10.9C13.5,10.9 16.7,14.5 16.7,19C16.7,23.5 13,26.6 7.8,26.6C4.3,26.6 1.3,25.2 0.6,23.5L1.2,23.3C2.5,24.9 4.8,25.6 7.3,25.6C9.5,25.6 10.3,23 10.3,19C10.3,14.5 9.3,11.9 7.6,11.9C5.2,11.9 3,12.8 1.8,14.4Z"/><path d="M0.30000000000000027,22A2.9,2.9 0 1 0 6.1,22A2.9,2.9 0 1 0 0.30000000000000027,22Z"/></g><g transform="translate(347.56 729.24) scale(1 1.0)"><path d="M3.8,0H10.5V26H3.8Z"/><path d="M3.8,0V1.4L0.6,8.4L0,8.1L3.3,0Z"/><path d="M0.9,24.9H13.5V26H0.9Z"/></g><g transform="translate(361.92 729.24) scale(1 1.0)"><path d="M0.10000000000000009,23.4A3.4,3.4 0 1 0 6.9,23.4A3.4,3.4 0 1 0 0.10000000000000009,23.4Z"/><path d="M6.6,23.5C7,27 5,30 1.2,31.8L0.9,31.3C3.8,29.5 5,27.5 5,25Z"/></g><g transform="translate(369.78 729.24) scale(1 1.0)"><path d="M0.3,0H16.3V1.2L8.4,25.9H2.3L12.6,4.8H4C2,4.8 1,6 0.9,8.7H0.3Z"/></g><g transform="translate(386.94 729.24) scale(1 1.0)"><path d="M3.8,0H10.5V26H3.8Z"/><path d="M3.8,0V1.4L0.6,8.4L0,8.1L3.3,0Z"/><path d="M0.9,24.9H13.5V26H0.9Z"/></g><g transform="translate(401.30 729.24) scale(1 1.0)"><path d="M3.8,0H10.5V26H3.8Z"/><path d="M3.8,0V1.4L0.6,8.4L0,8.1L3.3,0Z"/><path d="M0.9,24.9H13.5V26H0.9Z"/></g></g>
<g fill="#000" fill-rule="evenodd"><g transform="translate(486.25 729.24) scale(1 1.0)"><path d="M3.8,0H10.5V26H3.8Z"/><path d="M3.8,0V1.4L0.6,8.4L0,8.1L3.3,0Z"/><path d="M0.9,24.9H13.5V26H0.9Z"/></g><g transform="translate(501.48 729.24) scale(1 1.0)"><path d="M0.10000000000000009,6.2A3.1,3.1 0 1 0 6.300000000000001,6.2A3.1,3.1 0 1 0 0.10000000000000009,6.2Z"/><path d="M2.5,3.3C4,1 6.8,-0.4 9.5,-0.4C14.2,-0.4 17.1,3 17.1,7.6C17.1,12.5 13,15.6 8.5,18.6L1.2,22.2H6.8L9.8,19.3C11.5,17.5 11.2,13 11.2,8C11.2,3 10.3,0.6 8.8,0.6C6.5,0.6 4.5,1.5 3.2,3.4Z"/><path d="M0,21.9H17.1V26H0Z"/><path d="M10.5,22Q15.8,21.7 16.1,18.7H17.1V22Z"/></g><g transform="translate(520.31 729.24) scale(1 1.0)"><path d="M0.10000000000000009,23.4A3.4,3.4 0 1 0 6.9,23.4A3.4,3.4 0 1 0 0.10000000000000009,23.4Z"/><path d="M6.6,23.5C7,27 5,30 1.2,31.8L0.9,31.3C3.8,29.5 5,27.5 5,25Z"/></g><g transform="translate(529.04 729.24) scale(1 1.0)"><g transform="matrix(0.9538 0 0 1 0 0) rotate(180 9.75 13.05)"><path d="M0.0,8.9A9.75,9.3 0 1 0 19.5,8.9A9.75,9.3 0 1 0 0.0,8.9Z M6.25,8.5A2.75,7.6 0 1 0 11.75,8.5A2.75,7.6 0 1 0 6.25,8.5Z"/><path d="M19.5,9C19.5,19 15,26.5 8,26.5C6,26.5 4.5,26.2 3.5,25.6L3.8,25C5,25.5 6.5,25.4 7.5,25.3C10.5,24.8 11.9,21 11.9,15L11.9,9Z"/><path d="M1.1,22.7A3.1,3.1 0 1 0 7.300000000000001,22.7A3.1,3.1 0 1 0 1.1,22.7Z"/></g></g><g transform="translate(549.37 729.24) scale(1 1.0)"><g transform="matrix(0.9538 0 0 1 0 0) rotate(180 9.75 13.05)"><path d="M0.0,8.9A9.75,9.3 0 1 0 19.5,8.9A9.75,9.3 0 1 0 0.0,8.9Z M6.25,8.5A2.75,7.6 0 1 0 11.75,8.5A2.75,7.6 0 1 0 6.25,8.5Z"/><path d="M19.5,9C19.5,19 15,26.5 8,26.5C6,26.5 4.5,26.2 3.5,25.6L3.8,25C5,25.5 6.5,25.4 7.5,25.3C10.5,24.8 11.9,21 11.9,15L11.9,9Z"/><path d="M1.1,22.7A3.1,3.1 0 1 0 7.300000000000001,22.7A3.1,3.1 0 1 0 1.1,22.7Z"/></g></g><g transform="translate(569.70 729.24) scale(1 1.0)"><path d="M2.0,6.3A7.9,6.8 0 1 0 17.8,6.3A7.9,6.8 0 1 0 2.0,6.3Z M7.199999999999999,6.6A2.5,4.9 0 1 0 12.2,6.6A2.5,4.9 0 1 0 7.199999999999999,6.6Z"/><path d="M0.0,19.4A9.9,7.1 0 1 0 19.8,19.4A9.9,7.1 0 1 0 0.0,19.4Z M7,19.6A3,5.9 0 1 0 13,19.6A3,5.9 0 1 0 7,19.6Z"/></g></g>
<g fill="#e41f28" fill-rule="evenodd"><g transform="translate(1008.30 731.34) scale(1 1.0)"><path d="M0.10000000000000009,6.2A3.1,3.1 0 1 0 6.300000000000001,6.2A3.1,3.1 0 1 0 0.10000000000000009,6.2Z"/><path d="M2.5,3.3C4,1 6.8,-0.4 9.5,-0.4C14.2,-0.4 17.1,3 17.1,7.6C17.1,12.5 13,15.6 8.5,18.6L1.2,22.2H6.8L9.8,19.3C11.5,17.5 11.2,13 11.2,8C11.2,3 10.3,0.6 8.8,0.6C6.5,0.6 4.5,1.5 3.2,3.4Z"/><path d="M0,21.9H17.1V26H0Z"/><path d="M10.5,22Q15.8,21.7 16.1,18.7H17.1V22Z"/></g><g transform="translate(1027.42 731.34) scale(1 1.0)"><path d="M12.5,0.8C13.8,-0.7 17.3,-0.5 17.3,1.8C17.3,3.3 16,4.6 14.2,5.6L0.9,19.5H0L11.5,3.2C11.8,2.2 12.1,1.4 12.5,0.8Z"/><path d="M0,19.4H18.3V20.5H0Z"/><path d="M9.1,11.5H15.1V25.5H9.1Z"/><path d="M6,24.9H18.6V26H6Z"/></g><g transform="translate(1048.04 731.34) scale(1 1.0)"><path d="M0.0,23.2A3.1,3.1 0 1 0 6.2,23.2A3.1,3.1 0 1 0 0.0,23.2Z"/></g><g transform="translate(1056.26 731.34) scale(1 1.0)"><path d="M1.2,0C5,1.2 10,1.3 15.2,0.9C14.5,4.5 12,7 8,7C5.5,7 3.5,6.5 1.8,5.8V14L1.2,14.4Z"/><path d="M1.2,14.4C3,12 5.5,10.9 8.4,10.9C13.5,10.9 16.7,14.5 16.7,19C16.7,23.5 13,26.6 7.8,26.6C4.3,26.6 1.3,25.2 0.6,23.5L1.2,23.3C2.5,24.9 4.8,25.6 7.3,25.6C9.5,25.6 10.3,23 10.3,19C10.3,14.5 9.3,11.9 7.6,11.9C5.2,11.9 3,12.8 1.8,14.4Z"/><path d="M0.30000000000000027,22A2.9,2.9 0 1 0 6.1,22A2.9,2.9 0 1 0 0.30000000000000027,22Z"/></g><g transform="translate(1074.98 731.34) scale(1 1.0)"><path d="M0,13A11,13.4 0 1 0 22,13A11,13.4 0 1 0 0,13Z M7.3,13A3.7,12.4 0 1 0 14.7,13A3.7,12.4 0 1 0 7.3,13Z"/></g><g transform="translate(1099.00 731.34) scale(1 1.0)"><path d="M0,6.3A5,6.4 0 1 0 10,6.3A5,6.4 0 1 0 0,6.3Z M3.6999999999999997,6.3A1.4,5.6 0 1 0 6.5,6.3A1.4,5.6 0 1 0 3.6999999999999997,6.3Z"/><path d="M11.0,19.9A5.3,6.6 0 1 0 21.6,19.9A5.3,6.6 0 1 0 11.0,19.9Z M14.8,19.9A1.5,5.8 0 1 0 17.8,19.9A1.5,5.8 0 1 0 14.8,19.9Z"/><path d="M18.6,-0.8H19.8L2.8,27.8H1.6Z"/></g></g>
<line x1="996.05" y1="754.30" x2="600.40" y2="754.30" class="dots"/>
<rect x="423.75" y="795.06" width="37.00" height="39.6" fill="#d1d2d4"/>
<rect x="423.75" y="795.06" width="31.50" height="39.6" fill="#5a93aa"/>
<text id="lab4" class="lab" transform="matrix(0.8 0 0 1 165.40 0)" x="0" y="830.06" textLength="128.25" lengthAdjust="spacing">Durango</text>
<g fill="#000" fill-rule="evenodd"><g transform="translate(311.00 804.36) scale(1 1.0)"><path d="M0.20000000000000018,5.5A2.8,2.8 0 1 0 5.8,5.5A2.8,2.8 0 1 0 0.20000000000000018,5.5Z"/><path d="M-0.10000000000000009,21.2A2.9,2.9 0 1 0 5.699999999999999,21.2A2.9,2.9 0 1 0 -0.10000000000000009,21.2Z"/><path d="M2.2,3C3.5,1 6,-0.5 9,-0.5C13,-0.5 15.8,2.2 15.8,5.8C15.8,9 13.5,11.2 10,11.9V12.5H6.5V11.6H7.5C9.5,11.3 10.3,9 10.3,5.8C10.3,2.3 9.5,0.5 8.3,0.5C6,0.5 4,1.5 3,3.2Z"/><path d="M6.5,11.6H10C14.5,12 17.4,15 17.4,19C17.4,23.5 13.5,26.5 8.5,26.5C5,26.5 2,25.2 1.2,23.4L1.8,23.2C3,24.8 5.5,25.5 7.8,25.5C9.8,25.5 10.3,23 10.3,19C10.3,15 9.5,12.6 7.5,12.6H6.5Z"/></g><g transform="translate(329.70 804.36) scale(1 1.0)"><path d="M0.0,8.9A9.75,9.3 0 1 0 19.5,8.9A9.75,9.3 0 1 0 0.0,8.9Z M6.25,8.5A2.75,7.6 0 1 0 11.75,8.5A2.75,7.6 0 1 0 6.25,8.5Z"/><path d="M19.5,9C19.5,19 15,26.5 8,26.5C6,26.5 4.5,26.2 3.5,25.6L3.8,25C5,25.5 6.5,25.4 7.5,25.3C10.5,24.8 11.9,21 11.9,15L11.9,9Z"/><path d="M1.1,22.7A3.1,3.1 0 1 0 7.300000000000001,22.7A3.1,3.1 0 1 0 1.1,22.7Z"/></g><g transform="translate(350.50 804.36) scale(1 1.0)"><path d="M0.10000000000000009,23.4A3.4,3.4 0 1 0 6.9,23.4A3.4,3.4 0 1 0 0.10000000000000009,23.4Z"/><path d="M6.6,23.5C7,27 5,30 1.2,31.8L0.9,31.3C3.8,29.5 5,27.5 5,25Z"/></g><g transform="translate(358.80 804.36) scale(1 1.0)"><g transform="matrix(0.9538 0 0 1 0 0) rotate(180 9.75 13.05)"><path d="M0.0,8.9A9.75,9.3 0 1 0 19.5,8.9A9.75,9.3 0 1 0 0.0,8.9Z M6.25,8.5A2.75,7.6 0 1 0 11.75,8.5A2.75,7.6 0 1 0 6.25,8.5Z"/><path d="M19.5,9C19.5,19 15,26.5 8,26.5C6,26.5 4.5,26.2 3.5,25.6L3.8,25C5,25.5 6.5,25.4 7.5,25.3C10.5,24.8 11.9,21 11.9,15L11.9,9Z"/><path d="M1.1,22.7A3.1,3.1 0 1 0 7.300000000000001,22.7A3.1,3.1 0 1 0 1.1,22.7Z"/></g></g><g transform="translate(378.70 804.36) scale(1 1.0)"><path d="M0.20000000000000018,5.5A2.8,2.8 0 1 0 5.8,5.5A2.8,2.8 0 1 0 0.20000000000000018,5.5Z"/><path d="M-0.10000000000000009,21.2A2.9,2.9 0 1 0 5.699999999999999,21.2A2.9,2.9 0 1 0 -0.10000000000000009,21.2Z"/><path d="M2.2,3C3.5,1 6,-0.5 9,-0.5C13,-0.5 15.8,2.2 15.8,5.8C15.8,9 13.5,11.2 10,11.9V12.5H6.5V11.6H7.5C9.5,11.3 10.3,9 10.3,5.8C10.3,2.3 9.5,0.5 8.3,0.5C6,0.5 4,1.5 3,3.2Z"/><path d="M6.5,11.6H10C14.5,12 17.4,15 17.4,19C17.4,23.5 13.5,26.5 8.5,26.5C5,26.5 2,25.2 1.2,23.4L1.8,23.2C3,24.8 5.5,25.5 7.8,25.5C9.8,25.5 10.3,23 10.3,19C10.3,15 9.5,12.6 7.5,12.6H6.5Z"/></g><g transform="translate(397.40 804.36) scale(1 1.0)"><path d="M0.20000000000000018,5.5A2.8,2.8 0 1 0 5.8,5.5A2.8,2.8 0 1 0 0.20000000000000018,5.5Z"/><path d="M-0.10000000000000009,21.2A2.9,2.9 0 1 0 5.699999999999999,21.2A2.9,2.9 0 1 0 -0.10000000000000009,21.2Z"/><path d="M2.2,3C3.5,1 6,-0.5 9,-0.5C13,-0.5 15.8,2.2 15.8,5.8C15.8,9 13.5,11.2 10,11.9V12.5H6.5V11.6H7.5C9.5,11.3 10.3,9 10.3,5.8C10.3,2.3 9.5,0.5 8.3,0.5C6,0.5 4,1.5 3,3.2Z"/><path d="M6.5,11.6H10C14.5,12 17.4,15 17.4,19C17.4,23.5 13.5,26.5 8.5,26.5C5,26.5 2,25.2 1.2,23.4L1.8,23.2C3,24.8 5.5,25.5 7.8,25.5C9.8,25.5 10.3,23 10.3,19C10.3,15 9.5,12.6 7.5,12.6H6.5Z"/></g></g>
<g fill="#000" fill-rule="evenodd"><g transform="translate(468.75 804.36) scale(1 1.0)"><path d="M3.8,0H10.5V26H3.8Z"/><path d="M3.8,0V1.4L0.6,8.4L0,8.1L3.3,0Z"/><path d="M0.9,24.9H13.5V26H0.9Z"/></g><g transform="translate(483.61 804.36) scale(1 1.0)"><path d="M0.3,0H16.3V1.2L8.4,25.9H2.3L12.6,4.8H4C2,4.8 1,6 0.9,8.7H0.3Z"/></g><g transform="translate(501.27 804.36) scale(1 1.0)"><path d="M12.5,0.8C13.8,-0.7 17.3,-0.5 17.3,1.8C17.3,3.3 16,4.6 14.2,5.6L0.9,19.5H0L11.5,3.2C11.8,2.2 12.1,1.4 12.5,0.8Z"/><path d="M0,19.4H18.3V20.5H0Z"/><path d="M9.1,11.5H15.1V25.5H9.1Z"/><path d="M6,24.9H18.6V26H6Z"/></g><g transform="translate(521.23 804.36) scale(1 1.0)"><path d="M0.10000000000000009,23.4A3.4,3.4 0 1 0 6.9,23.4A3.4,3.4 0 1 0 0.10000000000000009,23.4Z"/><path d="M6.6,23.5C7,27 5,30 1.2,31.8L0.9,31.3C3.8,29.5 5,27.5 5,25Z"/></g><g transform="translate(529.58 804.36) scale(1 1.0)"><path d="M1.2,0C5,1.2 10,1.3 15.2,0.9C14.5,4.5 12,7 8,7C5.5,7 3.5,6.5 1.8,5.8V14L1.2,14.4Z"/><path d="M1.2,14.4C3,12 5.5,10.9 8.4,10.9C13.5,10.9 16.7,14.5 16.7,19C16.7,23.5 13,26.6 7.8,26.6C4.3,26.6 1.3,25.2 0.6,23.5L1.2,23.3C2.5,24.9 4.8,25.6 7.3,25.6C9.5,25.6 10.3,23 10.3,19C10.3,14.5 9.3,11.9 7.6,11.9C5.2,11.9 3,12.8 1.8,14.4Z"/><path d="M0.30000000000000027,22A2.9,2.9 0 1 0 6.1,22A2.9,2.9 0 1 0 0.30000000000000027,22Z"/></g><g transform="translate(547.64 804.36) scale(1 1.0)"><path d="M0.0,8.9A9.75,9.3 0 1 0 19.5,8.9A9.75,9.3 0 1 0 0.0,8.9Z M6.25,8.5A2.75,7.6 0 1 0 11.75,8.5A2.75,7.6 0 1 0 6.25,8.5Z"/><path d="M19.5,9C19.5,19 15,26.5 8,26.5C6,26.5 4.5,26.2 3.5,25.6L3.8,25C5,25.5 6.5,25.4 7.5,25.3C10.5,24.8 11.9,21 11.9,15L11.9,9Z"/><path d="M1.1,22.7A3.1,3.1 0 1 0 7.300000000000001,22.7A3.1,3.1 0 1 0 1.1,22.7Z"/></g><g transform="translate(568.50 804.36) scale(1 1.0)"><path d="M3.8,0H10.5V26H3.8Z"/><path d="M3.8,0V1.4L0.6,8.4L0,8.1L3.3,0Z"/><path d="M0.9,24.9H13.5V26H0.9Z"/></g></g>
<g fill="#e41f28" fill-rule="evenodd"><g transform="translate(1013.40 806.46) scale(1 1.0)"><path d="M3.8,0H10.5V26H3.8Z"/><path d="M3.8,0V1.4L0.6,8.4L0,8.1L3.3,0Z"/><path d="M0.9,24.9H13.5V26H0.9Z"/></g><g transform="translate(1028.36 806.46) scale(1 1.0)"><path d="M2.0,6.3A7.9,6.8 0 1 0 17.8,6.3A7.9,6.8 0 1 0 2.0,6.3Z M7.199999999999999,6.6A2.5,4.9 0 1 0 12.2,6.6A2.5,4.9 0 1 0 7.199999999999999,6.6Z"/><path d="M0.0,19.4A9.9,7.1 0 1 0 19.8,19.4A9.9,7.1 0 1 0 0.0,19.4Z M7,19.6A3,5.9 0 1 0 13,19.6A3,5.9 0 1 0 7,19.6Z"/></g><g transform="translate(1049.62 806.46) scale(1 1.0)"><path d="M0.0,23.2A3.1,3.1 0 1 0 6.2,23.2A3.1,3.1 0 1 0 0.0,23.2Z"/></g><g transform="translate(1057.28 806.46) scale(1 1.0)"><path d="M0.10000000000000009,6.2A3.1,3.1 0 1 0 6.300000000000001,6.2A3.1,3.1 0 1 0 0.10000000000000009,6.2Z"/><path d="M2.5,3.3C4,1 6.8,-0.4 9.5,-0.4C14.2,-0.4 17.1,3 17.1,7.6C17.1,12.5 13,15.6 8.5,18.6L1.2,22.2H6.8L9.8,19.3C11.5,17.5 11.2,13 11.2,8C11.2,3 10.3,0.6 8.8,0.6C6.5,0.6 4.5,1.5 3.2,3.4Z"/><path d="M0,21.9H17.1V26H0Z"/><path d="M10.5,22Q15.8,21.7 16.1,18.7H17.1V22Z"/></g><g transform="translate(1075.84 806.46) scale(1 1.0)"><path d="M0.20000000000000018,5.5A2.8,2.8 0 1 0 5.8,5.5A2.8,2.8 0 1 0 0.20000000000000018,5.5Z"/><path d="M-0.10000000000000009,21.2A2.9,2.9 0 1 0 5.699999999999999,21.2A2.9,2.9 0 1 0 -0.10000000000000009,21.2Z"/><path d="M2.2,3C3.5,1 6,-0.5 9,-0.5C13,-0.5 15.8,2.2 15.8,5.8C15.8,9 13.5,11.2 10,11.9V12.5H6.5V11.6H7.5C9.5,11.3 10.3,9 10.3,5.8C10.3,2.3 9.5,0.5 8.3,0.5C6,0.5 4,1.5 3,3.2Z"/><path d="M6.5,11.6H10C14.5,12 17.4,15 17.4,19C17.4,23.5 13.5,26.5 8.5,26.5C5,26.5 2,25.2 1.2,23.4L1.8,23.2C3,24.8 5.5,25.5 7.8,25.5C9.8,25.5 10.3,23 10.3,19C10.3,15 9.5,12.6 7.5,12.6H6.5Z"/></g><g transform="translate(1094.70 806.46) scale(1 1.0)"><path d="M0,6.3A5,6.4 0 1 0 10,6.3A5,6.4 0 1 0 0,6.3Z M3.6999999999999997,6.3A1.4,5.6 0 1 0 6.5,6.3A1.4,5.6 0 1 0 3.6999999999999997,6.3Z"/><path d="M11.0,19.9A5.3,6.6 0 1 0 21.6,19.9A5.3,6.6 0 1 0 11.0,19.9Z M14.8,19.9A1.5,5.8 0 1 0 17.8,19.9A1.5,5.8 0 1 0 14.8,19.9Z"/><path d="M18.6,-0.8H19.8L2.8,27.8H1.6Z"/></g></g>
<line x1="996.05" y1="829.42" x2="586.40" y2="829.42" class="dots"/>
<rect x="423.75" y="870.17" width="133.00" height="39.6" fill="#d1d2d4"/>
<rect x="423.75" y="870.17" width="112.75" height="39.6" fill="#5a93aa"/>
<text id="lab5" class="lab" transform="matrix(0.8 0 0 1 187.20 0)" x="0" y="905.17" textLength="99.75" lengthAdjust="spacing">Puebla</text>
<g fill="#000" fill-rule="evenodd"><g transform="translate(299.60 879.47) scale(1 1.0)"><path d="M3.8,0H10.5V26H3.8Z"/><path d="M3.8,0V1.4L0.6,8.4L0,8.1L3.3,0Z"/><path d="M0.9,24.9H13.5V26H0.9Z"/></g><g transform="translate(314.38 879.47) scale(1 1.0)"><path d="M0.20000000000000018,5.5A2.8,2.8 0 1 0 5.8,5.5A2.8,2.8 0 1 0 0.20000000000000018,5.5Z"/><path d="M-0.10000000000000009,21.2A2.9,2.9 0 1 0 5.699999999999999,21.2A2.9,2.9 0 1 0 -0.10000000000000009,21.2Z"/><path d="M2.2,3C3.5,1 6,-0.5 9,-0.5C13,-0.5 15.8,2.2 15.8,5.8C15.8,9 13.5,11.2 10,11.9V12.5H6.5V11.6H7.5C9.5,11.3 10.3,9 10.3,5.8C10.3,2.3 9.5,0.5 8.3,0.5C6,0.5 4,1.5 3,3.2Z"/><path d="M6.5,11.6H10C14.5,12 17.4,15 17.4,19C17.4,23.5 13.5,26.5 8.5,26.5C5,26.5 2,25.2 1.2,23.4L1.8,23.2C3,24.8 5.5,25.5 7.8,25.5C9.8,25.5 10.3,23 10.3,19C10.3,15 9.5,12.6 7.5,12.6H6.5Z"/></g><g transform="translate(333.07 879.47) scale(1 1.0)"><path d="M0.0,8.9A9.75,9.3 0 1 0 19.5,8.9A9.75,9.3 0 1 0 0.0,8.9Z M6.25,8.5A2.75,7.6 0 1 0 11.75,8.5A2.75,7.6 0 1 0 6.25,8.5Z"/><path d="M19.5,9C19.5,19 15,26.5 8,26.5C6,26.5 4.5,26.2 3.5,25.6L3.8,25C5,25.5 6.5,25.4 7.5,25.3C10.5,24.8 11.9,21 11.9,15L11.9,9Z"/><path d="M1.1,22.7A3.1,3.1 0 1 0 7.300000000000001,22.7A3.1,3.1 0 1 0 1.1,22.7Z"/></g><g transform="translate(353.85 879.47) scale(1 1.0)"><path d="M0.10000000000000009,23.4A3.4,3.4 0 1 0 6.9,23.4A3.4,3.4 0 1 0 0.10000000000000009,23.4Z"/><path d="M6.6,23.5C7,27 5,30 1.2,31.8L0.9,31.3C3.8,29.5 5,27.5 5,25Z"/></g><g transform="translate(362.13 879.47) scale(1 1.0)"><path d="M1.2,0C5,1.2 10,1.3 15.2,0.9C14.5,4.5 12,7 8,7C5.5,7 3.5,6.5 1.8,5.8V14L1.2,14.4Z"/><path d="M1.2,14.4C3,12 5.5,10.9 8.4,10.9C13.5,10.9 16.7,14.5 16.7,19C16.7,23.5 13,26.6 7.8,26.6C4.3,26.6 1.3,25.2 0.6,23.5L1.2,23.3C2.5,24.9 4.8,25.6 7.3,25.6C9.5,25.6 10.3,23 10.3,19C10.3,14.5 9.3,11.9 7.6,11.9C5.2,11.9 3,12.8 1.8,14.4Z"/><path d="M0.30000000000000027,22A2.9,2.9 0 1 0 6.1,22A2.9,2.9 0 1 0 0.30000000000000027,22Z"/></g><g transform="translate(380.12 879.47) scale(1 1.0)"><path d="M1.2,0C5,1.2 10,1.3 15.2,0.9C14.5,4.5 12,7 8,7C5.5,7 3.5,6.5 1.8,5.8V14L1.2,14.4Z"/><path d="M1.2,14.4C3,12 5.5,10.9 8.4,10.9C13.5,10.9 16.7,14.5 16.7,19C16.7,23.5 13,26.6 7.8,26.6C4.3,26.6 1.3,25.2 0.6,23.5L1.2,23.3C2.5,24.9 4.8,25.6 7.3,25.6C9.5,25.6 10.3,23 10.3,19C10.3,14.5 9.3,11.9 7.6,11.9C5.2,11.9 3,12.8 1.8,14.4Z"/><path d="M0.30000000000000027,22A2.9,2.9 0 1 0 6.1,22A2.9,2.9 0 1 0 0.30000000000000027,22Z"/></g><g transform="translate(398.10 879.47) scale(1 1.0)"><path d="M1.2,0C5,1.2 10,1.3 15.2,0.9C14.5,4.5 12,7 8,7C5.5,7 3.5,6.5 1.8,5.8V14L1.2,14.4Z"/><path d="M1.2,14.4C3,12 5.5,10.9 8.4,10.9C13.5,10.9 16.7,14.5 16.7,19C16.7,23.5 13,26.6 7.8,26.6C4.3,26.6 1.3,25.2 0.6,23.5L1.2,23.3C2.5,24.9 4.8,25.6 7.3,25.6C9.5,25.6 10.3,23 10.3,19C10.3,14.5 9.3,11.9 7.6,11.9C5.2,11.9 3,12.8 1.8,14.4Z"/><path d="M0.30000000000000027,22A2.9,2.9 0 1 0 6.1,22A2.9,2.9 0 1 0 0.30000000000000027,22Z"/></g></g>
<g fill="#000" fill-rule="evenodd"><g transform="translate(562.50 879.47) scale(1 1.0)"><path d="M0.10000000000000009,6.2A3.1,3.1 0 1 0 6.300000000000001,6.2A3.1,3.1 0 1 0 0.10000000000000009,6.2Z"/><path d="M2.5,3.3C4,1 6.8,-0.4 9.5,-0.4C14.2,-0.4 17.1,3 17.1,7.6C17.1,12.5 13,15.6 8.5,18.6L1.2,22.2H6.8L9.8,19.3C11.5,17.5 11.2,13 11.2,8C11.2,3 10.3,0.6 8.8,0.6C6.5,0.6 4.5,1.5 3.2,3.4Z"/><path d="M0,21.9H17.1V26H0Z"/><path d="M10.5,22Q15.8,21.7 16.1,18.7H17.1V22Z"/></g><g transform="translate(581.14 879.47) scale(1 1.0)"><path d="M1.2,0C5,1.2 10,1.3 15.2,0.9C14.5,4.5 12,7 8,7C5.5,7 3.5,6.5 1.8,5.8V14L1.2,14.4Z"/><path d="M1.2,14.4C3,12 5.5,10.9 8.4,10.9C13.5,10.9 16.7,14.5 16.7,19C16.7,23.5 13,26.6 7.8,26.6C4.3,26.6 1.3,25.2 0.6,23.5L1.2,23.3C2.5,24.9 4.8,25.6 7.3,25.6C9.5,25.6 10.3,23 10.3,19C10.3,14.5 9.3,11.9 7.6,11.9C5.2,11.9 3,12.8 1.8,14.4Z"/><path d="M0.30000000000000027,22A2.9,2.9 0 1 0 6.1,22A2.9,2.9 0 1 0 0.30000000000000027,22Z"/></g><g transform="translate(599.38 879.47) scale(1 1.0)"><path d="M0.10000000000000009,23.4A3.4,3.4 0 1 0 6.9,23.4A3.4,3.4 0 1 0 0.10000000000000009,23.4Z"/><path d="M6.6,23.5C7,27 5,30 1.2,31.8L0.9,31.3C3.8,29.5 5,27.5 5,25Z"/></g><g transform="translate(607.92 879.47) scale(1 1.0)"><path d="M0.20000000000000018,5.5A2.8,2.8 0 1 0 5.8,5.5A2.8,2.8 0 1 0 0.20000000000000018,5.5Z"/><path d="M-0.10000000000000009,21.2A2.9,2.9 0 1 0 5.699999999999999,21.2A2.9,2.9 0 1 0 -0.10000000000000009,21.2Z"/><path d="M2.2,3C3.5,1 6,-0.5 9,-0.5C13,-0.5 15.8,2.2 15.8,5.8C15.8,9 13.5,11.2 10,11.9V12.5H6.5V11.6H7.5C9.5,11.3 10.3,9 10.3,5.8C10.3,2.3 9.5,0.5 8.3,0.5C6,0.5 4,1.5 3,3.2Z"/><path d="M6.5,11.6H10C14.5,12 17.4,15 17.4,19C17.4,23.5 13.5,26.5 8.5,26.5C5,26.5 2,25.2 1.2,23.4L1.8,23.2C3,24.8 5.5,25.5 7.8,25.5C9.8,25.5 10.3,23 10.3,19C10.3,15 9.5,12.6 7.5,12.6H6.5Z"/></g><g transform="translate(626.86 879.47) scale(1 1.0)"><path d="M0.20000000000000018,5.5A2.8,2.8 0 1 0 5.8,5.5A2.8,2.8 0 1 0 0.20000000000000018,5.5Z"/><path d="M-0.10000000000000009,21.2A2.9,2.9 0 1 0 5.699999999999999,21.2A2.9,2.9 0 1 0 -0.10000000000000009,21.2Z"/><path d="M2.2,3C3.5,1 6,-0.5 9,-0.5C13,-0.5 15.8,2.2 15.8,5.8C15.8,9 13.5,11.2 10,11.9V12.5H6.5V11.6H7.5C9.5,11.3 10.3,9 10.3,5.8C10.3,2.3 9.5,0.5 8.3,0.5C6,0.5 4,1.5 3,3.2Z"/><path d="M6.5,11.6H10C14.5,12 17.4,15 17.4,19C17.4,23.5 13.5,26.5 8.5,26.5C5,26.5 2,25.2 1.2,23.4L1.8,23.2C3,24.8 5.5,25.5 7.8,25.5C9.8,25.5 10.3,23 10.3,19C10.3,15 9.5,12.6 7.5,12.6H6.5Z"/></g><g transform="translate(645.80 879.47) scale(1 1.0)"><path d="M1.2,0C5,1.2 10,1.3 15.2,0.9C14.5,4.5 12,7 8,7C5.5,7 3.5,6.5 1.8,5.8V14L1.2,14.4Z"/><path d="M1.2,14.4C3,12 5.5,10.9 8.4,10.9C13.5,10.9 16.7,14.5 16.7,19C16.7,23.5 13,26.6 7.8,26.6C4.3,26.6 1.3,25.2 0.6,23.5L1.2,23.3C2.5,24.9 4.8,25.6 7.3,25.6C9.5,25.6 10.3,23 10.3,19C10.3,14.5 9.3,11.9 7.6,11.9C5.2,11.9 3,12.8 1.8,14.4Z"/><path d="M0.30000000000000027,22A2.9,2.9 0 1 0 6.1,22A2.9,2.9 0 1 0 0.30000000000000027,22Z"/></g></g>
<g fill="#e41f28" fill-rule="evenodd"><g transform="translate(1016.40 881.57) scale(1 1.0)"><path d="M3.8,0H10.5V26H3.8Z"/><path d="M3.8,0V1.4L0.6,8.4L0,8.1L3.3,0Z"/><path d="M0.9,24.9H13.5V26H0.9Z"/></g><g transform="translate(1031.24 881.57) scale(1 1.0)"><path d="M2.0,6.3A7.9,6.8 0 1 0 17.8,6.3A7.9,6.8 0 1 0 2.0,6.3Z M7.199999999999999,6.6A2.5,4.9 0 1 0 12.2,6.6A2.5,4.9 0 1 0 7.199999999999999,6.6Z"/><path d="M0.0,19.4A9.9,7.1 0 1 0 19.8,19.4A9.9,7.1 0 1 0 0.0,19.4Z M7,19.6A3,5.9 0 1 0 13,19.6A3,5.9 0 1 0 7,19.6Z"/></g><g transform="translate(1052.38 881.57) scale(1 1.0)"><path d="M0.0,23.2A3.1,3.1 0 1 0 6.2,23.2A3.1,3.1 0 1 0 0.0,23.2Z"/></g><g transform="translate(1059.92 881.57) scale(1 1.0)"><path d="M3.8,0H10.5V26H3.8Z"/><path d="M3.8,0V1.4L0.6,8.4L0,8.1L3.3,0Z"/><path d="M0.9,24.9H13.5V26H0.9Z"/></g><g transform="translate(1074.76 881.57) scale(1 1.0)"><path d="M0.3,0H16.3V1.2L8.4,25.9H2.3L12.6,4.8H4C2,4.8 1,6 0.9,8.7H0.3Z"/></g><g transform="translate(1092.40 881.57) scale(1 1.0)"><path d="M0,6.3A5,6.4 0 1 0 10,6.3A5,6.4 0 1 0 0,6.3Z M3.6999999999999997,6.3A1.4,5.6 0 1 0 6.5,6.3A1.4,5.6 0 1 0 3.6999999999999997,6.3Z"/><path d="M11.0,19.9A5.3,6.6 0 1 0 21.6,19.9A5.3,6.6 0 1 0 11.0,19.9Z M14.8,19.9A1.5,5.8 0 1 0 17.8,19.9A1.5,5.8 0 1 0 14.8,19.9Z"/><path d="M18.6,-0.8H19.8L2.8,27.8H1.6Z"/></g></g>
<line x1="996.05" y1="904.53" x2="671.40" y2="904.53" class="dots"/>
<rect x="423.75" y="945.29" width="115.25" height="39.6" fill="#d1d2d4"/>
<rect x="423.75" y="945.29" width="100.00" height="39.6" fill="#5a93aa"/>
<text id="lab6" class="lab" transform="matrix(0.8 0 0 1 124.40 0)" x="0" y="980.29" textLength="180.75" lengthAdjust="spacing">Nuevo León</text>
<g fill="#000" fill-rule="evenodd"><g transform="translate(316.60 954.59) scale(1 1.0)"><path d="M3.8,0H10.5V26H3.8Z"/><path d="M3.8,0V1.4L0.6,8.4L0,8.1L3.3,0Z"/><path d="M0.9,24.9H13.5V26H0.9Z"/></g><g transform="translate(331.36 954.59) scale(1 1.0)"><path d="M0.10000000000000009,6.2A3.1,3.1 0 1 0 6.300000000000001,6.2A3.1,3.1 0 1 0 0.10000000000000009,6.2Z"/><path d="M2.5,3.3C4,1 6.8,-0.4 9.5,-0.4C14.2,-0.4 17.1,3 17.1,7.6C17.1,12.5 13,15.6 8.5,18.6L1.2,22.2H6.8L9.8,19.3C11.5,17.5 11.2,13 11.2,8C11.2,3 10.3,0.6 8.8,0.6C6.5,0.6 4.5,1.5 3.2,3.4Z"/><path d="M0,21.9H17.1V26H0Z"/><path d="M10.5,22Q15.8,21.7 16.1,18.7H17.1V22Z"/></g><g transform="translate(349.72 954.59) scale(1 1.0)"><path d="M0.20000000000000018,5.5A2.8,2.8 0 1 0 5.8,5.5A2.8,2.8 0 1 0 0.20000000000000018,5.5Z"/><path d="M-0.10000000000000009,21.2A2.9,2.9 0 1 0 5.699999999999999,21.2A2.9,2.9 0 1 0 -0.10000000000000009,21.2Z"/><path d="M2.2,3C3.5,1 6,-0.5 9,-0.5C13,-0.5 15.8,2.2 15.8,5.8C15.8,9 13.5,11.2 10,11.9V12.5H6.5V11.6H7.5C9.5,11.3 10.3,9 10.3,5.8C10.3,2.3 9.5,0.5 8.3,0.5C6,0.5 4,1.5 3,3.2Z"/><path d="M6.5,11.6H10C14.5,12 17.4,15 17.4,19C17.4,23.5 13.5,26.5 8.5,26.5C5,26.5 2,25.2 1.2,23.4L1.8,23.2C3,24.8 5.5,25.5 7.8,25.5C9.8,25.5 10.3,23 10.3,19C10.3,15 9.5,12.6 7.5,12.6H6.5Z"/></g><g transform="translate(368.38 954.59) scale(1 1.0)"><path d="M0.10000000000000009,23.4A3.4,3.4 0 1 0 6.9,23.4A3.4,3.4 0 1 0 0.10000000000000009,23.4Z"/><path d="M6.6,23.5C7,27 5,30 1.2,31.8L0.9,31.3C3.8,29.5 5,27.5 5,25Z"/></g><g transform="translate(376.64 954.59) scale(1 1.0)"><path d="M0.0,8.9A9.75,9.3 0 1 0 19.5,8.9A9.75,9.3 0 1 0 0.0,8.9Z M6.25,8.5A2.75,7.6 0 1 0 11.75,8.5A2.75,7.6 0 1 0 6.25,8.5Z"/><path d="M19.5,9C19.5,19 15,26.5 8,26.5C6,26.5 4.5,26.2 3.5,25.6L3.8,25C5,25.5 6.5,25.4 7.5,25.3C10.5,24.8 11.9,21 11.9,15L11.9,9Z"/><path d="M1.1,22.7A3.1,3.1 0 1 0 7.300000000000001,22.7A3.1,3.1 0 1 0 1.1,22.7Z"/></g><g transform="translate(397.40 954.59) scale(1 1.0)"><path d="M0.20000000000000018,5.5A2.8,2.8 0 1 0 5.8,5.5A2.8,2.8 0 1 0 0.20000000000000018,5.5Z"/><path d="M-0.10000000000000009,21.2A2.9,2.9 0 1 0 5.699999999999999,21.2A2.9,2.9 0 1 0 -0.10000000000000009,21.2Z"/><path d="M2.2,3C3.5,1 6,-0.5 9,-0.5C13,-0.5 15.8,2.2 15.8,5.8C15.8,9 13.5,11.2 10,11.9V12.5H6.5V11.6H7.5C9.5,11.3 10.3,9 10.3,5.8C10.3,2.3 9.5,0.5 8.3,0.5C6,0.5 4,1.5 3,3.2Z"/><path d="M6.5,11.6H10C14.5,12 17.4,15 17.4,19C17.4,23.5 13.5,26.5 8.5,26.5C5,26.5 2,25.2 1.2,23.4L1.8,23.2C3,24.8 5.5,25.5 7.8,25.5C9.8,25.5 10.3,23 10.3,19C10.3,15 9.5,12.6 7.5,12.6H6.5Z"/></g></g>
<g fill="#000" fill-rule="evenodd"><g transform="translate(545.75 954.59) scale(1 1.0)"><path d="M3.8,0H10.5V26H3.8Z"/><path d="M3.8,0V1.4L0.6,8.4L0,8.1L3.3,0Z"/><path d="M0.9,24.9H13.5V26H0.9Z"/></g><g transform="translate(560.50 954.59) scale(1 1.0)"><path d="M0.0,8.9A9.75,9.3 0 1 0 19.5,8.9A9.75,9.3 0 1 0 0.0,8.9Z M6.25,8.5A2.75,7.6 0 1 0 11.75,8.5A2.75,7.6 0 1 0 6.25,8.5Z"/><path d="M19.5,9C19.5,19 15,26.5 8,26.5C6,26.5 4.5,26.2 3.5,25.6L3.8,25C5,25.5 6.5,25.4 7.5,25.3C10.5,24.8 11.9,21 11.9,15L11.9,9Z"/><path d="M1.1,22.7A3.1,3.1 0 1 0 7.300000000000001,22.7A3.1,3.1 0 1 0 1.1,22.7Z"/></g><g transform="translate(581.25 954.59) scale(1 1.0)"><path d="M0.10000000000000009,23.4A3.4,3.4 0 1 0 6.9,23.4A3.4,3.4 0 1 0 0.10000000000000009,23.4Z"/><path d="M6.6,23.5C7,27 5,30 1.2,31.8L0.9,31.3C3.8,29.5 5,27.5 5,25Z"/></g><g transform="translate(589.50 954.59) scale(1 1.0)"><path d="M0.0,8.9A9.75,9.3 0 1 0 19.5,8.9A9.75,9.3 0 1 0 0.0,8.9Z M6.25,8.5A2.75,7.6 0 1 0 11.75,8.5A2.75,7.6 0 1 0 6.25,8.5Z"/><path d="M19.5,9C19.5,19 15,26.5 8,26.5C6,26.5 4.5,26.2 3.5,25.6L3.8,25C5,25.5 6.5,25.4 7.5,25.3C10.5,24.8 11.9,21 11.9,15L11.9,9Z"/><path d="M1.1,22.7A3.1,3.1 0 1 0 7.300000000000001,22.7A3.1,3.1 0 1 0 1.1,22.7Z"/></g><g transform="translate(610.25 954.59) scale(1 1.0)"><path d="M3.8,0H10.5V26H3.8Z"/><path d="M3.8,0V1.4L0.6,8.4L0,8.1L3.3,0Z"/><path d="M0.9,24.9H13.5V26H0.9Z"/></g><g transform="translate(625.00 954.59) scale(1 1.0)"><path d="M0.0,8.9A9.75,9.3 0 1 0 19.5,8.9A9.75,9.3 0 1 0 0.0,8.9Z M6.25,8.5A2.75,7.6 0 1 0 11.75,8.5A2.75,7.6 0 1 0 6.25,8.5Z"/><path d="M19.5,9C19.5,19 15,26.5 8,26.5C6,26.5 4.5,26.2 3.5,25.6L3.8,25C5,25.5 6.5,25.4 7.5,25.3C10.5,24.8 11.9,21 11.9,15L11.9,9Z"/><path d="M1.1,22.7A3.1,3.1 0 1 0 7.300000000000001,22.7A3.1,3.1 0 1 0 1.1,22.7Z"/></g></g>
<g fill="#e41f28" fill-rule="evenodd"><g transform="translate(1014.50 956.69) scale(1 1.0)"><path d="M3.8,0H10.5V26H3.8Z"/><path d="M3.8,0V1.4L0.6,8.4L0,8.1L3.3,0Z"/><path d="M0.9,24.9H13.5V26H0.9Z"/></g><g transform="translate(1029.56 956.69) scale(1 1.0)"><g transform="matrix(0.9538 0 0 1 0 0) rotate(180 9.75 13.05)"><path d="M0.0,8.9A9.75,9.3 0 1 0 19.5,8.9A9.75,9.3 0 1 0 0.0,8.9Z M6.25,8.5A2.75,7.6 0 1 0 11.75,8.5A2.75,7.6 0 1 0 6.25,8.5Z"/><path d="M19.5,9C19.5,19 15,26.5 8,26.5C6,26.5 4.5,26.2 3.5,25.6L3.8,25C5,25.5 6.5,25.4 7.5,25.3C10.5,24.8 11.9,21 11.9,15L11.9,9Z"/><path d="M1.1,22.7A3.1,3.1 0 1 0 7.300000000000001,22.7A3.1,3.1 0 1 0 1.1,22.7Z"/></g></g><g transform="translate(1049.72 956.69) scale(1 1.0)"><path d="M0.0,23.2A3.1,3.1 0 1 0 6.2,23.2A3.1,3.1 0 1 0 0.0,23.2Z"/></g><g transform="translate(1057.48 956.69) scale(1 1.0)"><path d="M3.8,0H10.5V26H3.8Z"/><path d="M3.8,0V1.4L0.6,8.4L0,8.1L3.3,0Z"/><path d="M0.9,24.9H13.5V26H0.9Z"/></g><g transform="translate(1072.54 956.69) scale(1 1.0)"><path d="M2.0,6.3A7.9,6.8 0 1 0 17.8,6.3A7.9,6.8 0 1 0 2.0,6.3Z M7.199999999999999,6.6A2.5,4.9 0 1 0 12.2,6.6A2.5,4.9 0 1 0 7.199999999999999,6.6Z"/><path d="M0.0,19.4A9.9,7.1 0 1 0 19.8,19.4A9.9,7.1 0 1 0 0.0,19.4Z M7,19.6A3,5.9 0 1 0 13,19.6A3,5.9 0 1 0 7,19.6Z"/></g><g transform="translate(1093.90 956.69) scale(1 1.0)"><path d="M0,6.3A5,6.4 0 1 0 10,6.3A5,6.4 0 1 0 0,6.3Z M3.6999999999999997,6.3A1.4,5.6 0 1 0 6.5,6.3A1.4,5.6 0 1 0 3.6999999999999997,6.3Z"/><path d="M11.0,19.9A5.3,6.6 0 1 0 21.6,19.9A5.3,6.6 0 1 0 11.0,19.9Z M14.8,19.9A1.5,5.8 0 1 0 17.8,19.9A1.5,5.8 0 1 0 14.8,19.9Z"/><path d="M18.6,-0.8H19.8L2.8,27.8H1.6Z"/></g></g>
<line x1="996.05" y1="979.65" x2="651.90" y2="979.65" class="dots"/>
<rect x="423.75" y="1020.40" width="45.00" height="39.6" fill="#d1d2d4"/>
<rect x="423.75" y="1020.40" width="39.50" height="39.6" fill="#5a93aa"/>
<text id="lab7" class="lab" transform="matrix(0.8 0 0 1 175.80 0)" x="0" y="1055.40" textLength="116.50" lengthAdjust="spacing">Yucatán</text>
<g fill="#000" fill-rule="evenodd"><g transform="translate(305.30 1029.70) scale(1 1.0)"><path d="M12.5,0.8C13.8,-0.7 17.3,-0.5 17.3,1.8C17.3,3.3 16,4.6 14.2,5.6L0.9,19.5H0L11.5,3.2C11.8,2.2 12.1,1.4 12.5,0.8Z"/><path d="M0,19.4H18.3V20.5H0Z"/><path d="M9.1,11.5H15.1V25.5H9.1Z"/><path d="M6,24.9H18.6V26H6Z"/></g><g transform="translate(324.86 1029.70) scale(1 1.0)"><path d="M0.0,8.9A9.75,9.3 0 1 0 19.5,8.9A9.75,9.3 0 1 0 0.0,8.9Z M6.25,8.5A2.75,7.6 0 1 0 11.75,8.5A2.75,7.6 0 1 0 6.25,8.5Z"/><path d="M19.5,9C19.5,19 15,26.5 8,26.5C6,26.5 4.5,26.2 3.5,25.6L3.8,25C5,25.5 6.5,25.4 7.5,25.3C10.5,24.8 11.9,21 11.9,15L11.9,9Z"/><path d="M1.1,22.7A3.1,3.1 0 1 0 7.300000000000001,22.7A3.1,3.1 0 1 0 1.1,22.7Z"/></g><g transform="translate(345.32 1029.70) scale(1 1.0)"><path d="M0.10000000000000009,23.4A3.4,3.4 0 1 0 6.9,23.4A3.4,3.4 0 1 0 0.10000000000000009,23.4Z"/><path d="M6.6,23.5C7,27 5,30 1.2,31.8L0.9,31.3C3.8,29.5 5,27.5 5,25Z"/></g><g transform="translate(360.28 1029.70) scale(1 1.0)"><path d="M3.8,0H10.5V26H3.8Z"/><path d="M3.8,0V1.4L0.6,8.4L0,8.1L3.3,0Z"/><path d="M0.9,24.9H13.5V26H0.9Z"/></g><g transform="translate(374.74 1029.70) scale(1 1.0)"><path d="M0.10000000000000009,6.2A3.1,3.1 0 1 0 6.300000000000001,6.2A3.1,3.1 0 1 0 0.10000000000000009,6.2Z"/><path d="M2.5,3.3C4,1 6.8,-0.4 9.5,-0.4C14.2,-0.4 17.1,3 17.1,7.6C17.1,12.5 13,15.6 8.5,18.6L1.2,22.2H6.8L9.8,19.3C11.5,17.5 11.2,13 11.2,8C11.2,3 10.3,0.6 8.8,0.6C6.5,0.6 4.5,1.5 3.2,3.4Z"/><path d="M0,21.9H17.1V26H0Z"/><path d="M10.5,22Q15.8,21.7 16.1,18.7H17.1V22Z"/></g><g transform="translate(392.80 1029.70) scale(1 1.0)"><path d="M0,13A11,13.4 0 1 0 22,13A11,13.4 0 1 0 0,13Z M7.3,13A3.7,12.4 0 1 0 14.7,13A3.7,12.4 0 1 0 7.3,13Z"/></g></g>
<g fill="#000" fill-rule="evenodd"><g transform="translate(480.00 1029.70) scale(1 1.0)"><path d="M0.3,0H16.3V1.2L8.4,25.9H2.3L12.6,4.8H4C2,4.8 1,6 0.9,8.7H0.3Z"/></g><g transform="translate(496.68 1029.70) scale(1 1.0)"><path d="M0.10000000000000009,23.4A3.4,3.4 0 1 0 6.9,23.4A3.4,3.4 0 1 0 0.10000000000000009,23.4Z"/><path d="M6.6,23.5C7,27 5,30 1.2,31.8L0.9,31.3C3.8,29.5 5,27.5 5,25Z"/></g><g transform="translate(504.05 1029.70) scale(1 1.0)"><path d="M0,13A11,13.4 0 1 0 22,13A11,13.4 0 1 0 0,13Z M7.3,13A3.7,12.4 0 1 0 14.7,13A3.7,12.4 0 1 0 7.3,13Z"/></g><g transform="translate(526.42 1029.70) scale(1 1.0)"><path d="M0.10000000000000009,6.2A3.1,3.1 0 1 0 6.300000000000001,6.2A3.1,3.1 0 1 0 0.10000000000000009,6.2Z"/><path d="M2.5,3.3C4,1 6.8,-0.4 9.5,-0.4C14.2,-0.4 17.1,3 17.1,7.6C17.1,12.5 13,15.6 8.5,18.6L1.2,22.2H6.8L9.8,19.3C11.5,17.5 11.2,13 11.2,8C11.2,3 10.3,0.6 8.8,0.6C6.5,0.6 4.5,1.5 3.2,3.4Z"/><path d="M0,21.9H17.1V26H0Z"/><path d="M10.5,22Q15.8,21.7 16.1,18.7H17.1V22Z"/></g><g transform="translate(543.90 1029.70) scale(1 1.0)"><path d="M0.10000000000000009,6.2A3.1,3.1 0 1 0 6.300000000000001,6.2A3.1,3.1 0 1 0 0.10000000000000009,6.2Z"/><path d="M2.5,3.3C4,1 6.8,-0.4 9.5,-0.4C14.2,-0.4 17.1,3 17.1,7.6C17.1,12.5 13,15.6 8.5,18.6L1.2,22.2H6.8L9.8,19.3C11.5,17.5 11.2,13 11.2,8C11.2,3 10.3,0.6 8.8,0.6C6.5,0.6 4.5,1.5 3.2,3.4Z"/><path d="M0,21.9H17.1V26H0Z"/><path d="M10.5,22Q15.8,21.7 16.1,18.7H17.1V22Z"/></g></g>
<g fill="#e41f28" fill-rule="evenodd"><g transform="translate(1011.40 1031.80) scale(1 1.0)"><path d="M3.8,0H10.5V26H3.8Z"/><path d="M3.8,0V1.4L0.6,8.4L0,8.1L3.3,0Z"/><path d="M0.9,24.9H13.5V26H0.9Z"/></g><g transform="translate(1026.48 1031.80) scale(1 1.0)"><path d="M12.5,0.8C13.8,-0.7 17.3,-0.5 17.3,1.8C17.3,3.3 16,4.6 14.2,5.6L0.9,19.5H0L11.5,3.2C11.8,2.2 12.1,1.4 12.5,0.8Z"/><path d="M0,19.4H18.3V20.5H0Z"/><path d="M9.1,11.5H15.1V25.5H9.1Z"/><path d="M6,24.9H18.6V26H6Z"/></g><g transform="translate(1046.66 1031.80) scale(1 1.0)"><path d="M0.0,23.2A3.1,3.1 0 1 0 6.2,23.2A3.1,3.1 0 1 0 0.0,23.2Z"/></g><g transform="translate(1054.44 1031.80) scale(1 1.0)"><path d="M0.20000000000000018,5.5A2.8,2.8 0 1 0 5.8,5.5A2.8,2.8 0 1 0 0.20000000000000018,5.5Z"/><path d="M-0.10000000000000009,21.2A2.9,2.9 0 1 0 5.699999999999999,21.2A2.9,2.9 0 1 0 -0.10000000000000009,21.2Z"/><path d="M2.2,3C3.5,1 6,-0.5 9,-0.5C13,-0.5 15.8,2.2 15.8,5.8C15.8,9 13.5,11.2 10,11.9V12.5H6.5V11.6H7.5C9.5,11.3 10.3,9 10.3,5.8C10.3,2.3 9.5,0.5 8.3,0.5C6,0.5 4,1.5 3,3.2Z"/><path d="M6.5,11.6H10C14.5,12 17.4,15 17.4,19C17.4,23.5 13.5,26.5 8.5,26.5C5,26.5 2,25.2 1.2,23.4L1.8,23.2C3,24.8 5.5,25.5 7.8,25.5C9.8,25.5 10.3,23 10.3,19C10.3,15 9.5,12.6 7.5,12.6H6.5Z"/></g><g transform="translate(1073.42 1031.80) scale(1 1.0)"><path d="M0,13A11,13.4 0 1 0 22,13A11,13.4 0 1 0 0,13Z M7.3,13A3.7,12.4 0 1 0 14.7,13A3.7,12.4 0 1 0 7.3,13Z"/></g><g transform="translate(1097.00 1031.80) scale(1 1.0)"><path d="M0,6.3A5,6.4 0 1 0 10,6.3A5,6.4 0 1 0 0,6.3Z M3.6999999999999997,6.3A1.4,5.6 0 1 0 6.5,6.3A1.4,5.6 0 1 0 3.6999999999999997,6.3Z"/><path d="M11.0,19.9A5.3,6.6 0 1 0 21.6,19.9A5.3,6.6 0 1 0 11.0,19.9Z M14.8,19.9A1.5,5.8 0 1 0 17.8,19.9A1.5,5.8 0 1 0 14.8,19.9Z"/><path d="M18.6,-0.8H19.8L2.8,27.8H1.6Z"/></g></g>
<line x1="996.05" y1="1054.76" x2="578.90" y2="1054.76" class="dots"/>
<rect x="423.75" y="1095.52" width="60.50" height="39.6" fill="#d1d2d4"/>
<rect x="423.75" y="1095.52" width="53.25" height="39.6" fill="#5a93aa"/>
<text id="lab8" class="lab" transform="matrix(0.8 0 0 1 165.40 0)" x="0" y="1130.52" textLength="127.00" lengthAdjust="spacing">Coahuila</text>
<g fill="#000" fill-rule="evenodd"><g transform="translate(307.60 1104.82) scale(1 1.0)"><g transform="matrix(0.9538 0 0 1 0 0) rotate(180 9.75 13.05)"><path d="M0.0,8.9A9.75,9.3 0 1 0 19.5,8.9A9.75,9.3 0 1 0 0.0,8.9Z M6.25,8.5A2.75,7.6 0 1 0 11.75,8.5A2.75,7.6 0 1 0 6.25,8.5Z"/><path d="M19.5,9C19.5,19 15,26.5 8,26.5C6,26.5 4.5,26.2 3.5,25.6L3.8,25C5,25.5 6.5,25.4 7.5,25.3C10.5,24.8 11.9,21 11.9,15L11.9,9Z"/><path d="M1.1,22.7A3.1,3.1 0 1 0 7.300000000000001,22.7A3.1,3.1 0 1 0 1.1,22.7Z"/></g></g><g transform="translate(328.26 1104.82) scale(1 1.0)"><g transform="matrix(0.9538 0 0 1 0 0) rotate(180 9.75 13.05)"><path d="M0.0,8.9A9.75,9.3 0 1 0 19.5,8.9A9.75,9.3 0 1 0 0.0,8.9Z M6.25,8.5A2.75,7.6 0 1 0 11.75,8.5A2.75,7.6 0 1 0 6.25,8.5Z"/><path d="M19.5,9C19.5,19 15,26.5 8,26.5C6,26.5 4.5,26.2 3.5,25.6L3.8,25C5,25.5 6.5,25.4 7.5,25.3C10.5,24.8 11.9,21 11.9,15L11.9,9Z"/><path d="M1.1,22.7A3.1,3.1 0 1 0 7.300000000000001,22.7A3.1,3.1 0 1 0 1.1,22.7Z"/></g></g><g transform="translate(348.92 1104.82) scale(1 1.0)"><path d="M0.10000000000000009,23.4A3.4,3.4 0 1 0 6.9,23.4A3.4,3.4 0 1 0 0.10000000000000009,23.4Z"/><path d="M6.6,23.5C7,27 5,30 1.2,31.8L0.9,31.3C3.8,29.5 5,27.5 5,25Z"/></g><g transform="translate(357.98 1104.82) scale(1 1.0)"><path d="M1.2,0C5,1.2 10,1.3 15.2,0.9C14.5,4.5 12,7 8,7C5.5,7 3.5,6.5 1.8,5.8V14L1.2,14.4Z"/><path d="M1.2,14.4C3,12 5.5,10.9 8.4,10.9C13.5,10.9 16.7,14.5 16.7,19C16.7,23.5 13,26.6 7.8,26.6C4.3,26.6 1.3,25.2 0.6,23.5L1.2,23.3C2.5,24.9 4.8,25.6 7.3,25.6C9.5,25.6 10.3,23 10.3,19C10.3,14.5 9.3,11.9 7.6,11.9C5.2,11.9 3,12.8 1.8,14.4Z"/><path d="M0.30000000000000027,22A2.9,2.9 0 1 0 6.1,22A2.9,2.9 0 1 0 0.30000000000000027,22Z"/></g><g transform="translate(376.74 1104.82) scale(1 1.0)"><path d="M12.5,0.8C13.8,-0.7 17.3,-0.5 17.3,1.8C17.3,3.3 16,4.6 14.2,5.6L0.9,19.5H0L11.5,3.2C11.8,2.2 12.1,1.4 12.5,0.8Z"/><path d="M0,19.4H18.3V20.5H0Z"/><path d="M9.1,11.5H15.1V25.5H9.1Z"/><path d="M6,24.9H18.6V26H6Z"/></g><g transform="translate(397.40 1104.82) scale(1 1.0)"><path d="M0.20000000000000018,5.5A2.8,2.8 0 1 0 5.8,5.5A2.8,2.8 0 1 0 0.20000000000000018,5.5Z"/><path d="M-0.10000000000000009,21.2A2.9,2.9 0 1 0 5.699999999999999,21.2A2.9,2.9 0 1 0 -0.10000000000000009,21.2Z"/><path d="M2.2,3C3.5,1 6,-0.5 9,-0.5C13,-0.5 15.8,2.2 15.8,5.8C15.8,9 13.5,11.2 10,11.9V12.5H6.5V11.6H7.5C9.5,11.3 10.3,9 10.3,5.8C10.3,2.3 9.5,0.5 8.3,0.5C6,0.5 4,1.5 3,3.2Z"/><path d="M6.5,11.6H10C14.5,12 17.4,15 17.4,19C17.4,23.5 13.5,26.5 8.5,26.5C5,26.5 2,25.2 1.2,23.4L1.8,23.2C3,24.8 5.5,25.5 7.8,25.5C9.8,25.5 10.3,23 10.3,19C10.3,15 9.5,12.6 7.5,12.6H6.5Z"/></g></g>
<g fill="#000" fill-rule="evenodd"><g transform="translate(495.75 1104.82) scale(1 1.0)"><path d="M0.0,8.9A9.75,9.3 0 1 0 19.5,8.9A9.75,9.3 0 1 0 0.0,8.9Z M6.25,8.5A2.75,7.6 0 1 0 11.75,8.5A2.75,7.6 0 1 0 6.25,8.5Z"/><path d="M19.5,9C19.5,19 15,26.5 8,26.5C6,26.5 4.5,26.2 3.5,25.6L3.8,25C5,25.5 6.5,25.4 7.5,25.3C10.5,24.8 11.9,21 11.9,15L11.9,9Z"/><path d="M1.1,22.7A3.1,3.1 0 1 0 7.300000000000001,22.7A3.1,3.1 0 1 0 1.1,22.7Z"/></g><g transform="translate(516.45 1104.82) scale(1 1.0)"><path d="M0.10000000000000009,23.4A3.4,3.4 0 1 0 6.9,23.4A3.4,3.4 0 1 0 0.10000000000000009,23.4Z"/><path d="M6.6,23.5C7,27 5,30 1.2,31.8L0.9,31.3C3.8,29.5 5,27.5 5,25Z"/></g><g transform="translate(524.65 1104.82) scale(1 1.0)"><path d="M0.10000000000000009,6.2A3.1,3.1 0 1 0 6.300000000000001,6.2A3.1,3.1 0 1 0 0.10000000000000009,6.2Z"/><path d="M2.5,3.3C4,1 6.8,-0.4 9.5,-0.4C14.2,-0.4 17.1,3 17.1,7.6C17.1,12.5 13,15.6 8.5,18.6L1.2,22.2H6.8L9.8,19.3C11.5,17.5 11.2,13 11.2,8C11.2,3 10.3,0.6 8.8,0.6C6.5,0.6 4.5,1.5 3.2,3.4Z"/><path d="M0,21.9H17.1V26H0Z"/><path d="M10.5,22Q15.8,21.7 16.1,18.7H17.1V22Z"/></g><g transform="translate(542.95 1104.82) scale(1 1.0)"><path d="M2.0,6.3A7.9,6.8 0 1 0 17.8,6.3A7.9,6.8 0 1 0 2.0,6.3Z M7.199999999999999,6.6A2.5,4.9 0 1 0 12.2,6.6A2.5,4.9 0 1 0 7.199999999999999,6.6Z"/><path d="M0.0,19.4A9.9,7.1 0 1 0 19.8,19.4A9.9,7.1 0 1 0 0.0,19.4Z M7,19.6A3,5.9 0 1 0 13,19.6A3,5.9 0 1 0 7,19.6Z"/></g><g transform="translate(563.95 1104.82) scale(1 1.0)"><path d="M2.0,6.3A7.9,6.8 0 1 0 17.8,6.3A7.9,6.8 0 1 0 2.0,6.3Z M7.199999999999999,6.6A2.5,4.9 0 1 0 12.2,6.6A2.5,4.9 0 1 0 7.199999999999999,6.6Z"/><path d="M0.0,19.4A9.9,7.1 0 1 0 19.8,19.4A9.9,7.1 0 1 0 0.0,19.4Z M7,19.6A3,5.9 0 1 0 13,19.6A3,5.9 0 1 0 7,19.6Z"/></g></g>
<g fill="#e41f28" fill-rule="evenodd"><g transform="translate(1012.20 1106.92) scale(1 1.0)"><path d="M3.8,0H10.5V26H3.8Z"/><path d="M3.8,0V1.4L0.6,8.4L0,8.1L3.3,0Z"/><path d="M0.9,24.9H13.5V26H0.9Z"/></g><g transform="translate(1027.30 1106.92) scale(1 1.0)"><path d="M0.20000000000000018,5.5A2.8,2.8 0 1 0 5.8,5.5A2.8,2.8 0 1 0 0.20000000000000018,5.5Z"/><path d="M-0.10000000000000009,21.2A2.9,2.9 0 1 0 5.699999999999999,21.2A2.9,2.9 0 1 0 -0.10000000000000009,21.2Z"/><path d="M2.2,3C3.5,1 6,-0.5 9,-0.5C13,-0.5 15.8,2.2 15.8,5.8C15.8,9 13.5,11.2 10,11.9V12.5H6.5V11.6H7.5C9.5,11.3 10.3,9 10.3,5.8C10.3,2.3 9.5,0.5 8.3,0.5C6,0.5 4,1.5 3,3.2Z"/><path d="M6.5,11.6H10C14.5,12 17.4,15 17.4,19C17.4,23.5 13.5,26.5 8.5,26.5C5,26.5 2,25.2 1.2,23.4L1.8,23.2C3,24.8 5.5,25.5 7.8,25.5C9.8,25.5 10.3,23 10.3,19C10.3,15 9.5,12.6 7.5,12.6H6.5Z"/></g><g transform="translate(1046.30 1106.92) scale(1 1.0)"><path d="M0.0,23.2A3.1,3.1 0 1 0 6.2,23.2A3.1,3.1 0 1 0 0.0,23.2Z"/></g><g transform="translate(1054.10 1106.92) scale(1 1.0)"><path d="M0.0,8.9A9.75,9.3 0 1 0 19.5,8.9A9.75,9.3 0 1 0 0.0,8.9Z M6.25,8.5A2.75,7.6 0 1 0 11.75,8.5A2.75,7.6 0 1 0 6.25,8.5Z"/><path d="M19.5,9C19.5,19 15,26.5 8,26.5C6,26.5 4.5,26.2 3.5,25.6L3.8,25C5,25.5 6.5,25.4 7.5,25.3C10.5,24.8 11.9,21 11.9,15L11.9,9Z"/><path d="M1.1,22.7A3.1,3.1 0 1 0 7.300000000000001,22.7A3.1,3.1 0 1 0 1.1,22.7Z"/></g><g transform="translate(1075.20 1106.92) scale(1 1.0)"><g transform="matrix(0.9538 0 0 1 0 0) rotate(180 9.75 13.05)"><path d="M0.0,8.9A9.75,9.3 0 1 0 19.5,8.9A9.75,9.3 0 1 0 0.0,8.9Z M6.25,8.5A2.75,7.6 0 1 0 11.75,8.5A2.75,7.6 0 1 0 6.25,8.5Z"/><path d="M19.5,9C19.5,19 15,26.5 8,26.5C6,26.5 4.5,26.2 3.5,25.6L3.8,25C5,25.5 6.5,25.4 7.5,25.3C10.5,24.8 11.9,21 11.9,15L11.9,9Z"/><path d="M1.1,22.7A3.1,3.1 0 1 0 7.300000000000001,22.7A3.1,3.1 0 1 0 1.1,22.7Z"/></g></g><g transform="translate(1095.40 1106.92) scale(1 1.0)"><path d="M0,6.3A5,6.4 0 1 0 10,6.3A5,6.4 0 1 0 0,6.3Z M3.6999999999999997,6.3A1.4,5.6 0 1 0 6.5,6.3A1.4,5.6 0 1 0 3.6999999999999997,6.3Z"/><path d="M11.0,19.9A5.3,6.6 0 1 0 21.6,19.9A5.3,6.6 0 1 0 11.0,19.9Z M14.8,19.9A1.5,5.8 0 1 0 17.8,19.9A1.5,5.8 0 1 0 14.8,19.9Z"/><path d="M18.6,-0.8H19.8L2.8,27.8H1.6Z"/></g></g>
<line x1="996.05" y1="1129.88" x2="602.40" y2="1129.88" class="dots"/>
<rect x="423.75" y="1170.63" width="123.75" height="39.6" fill="#d1d2d4"/>
<rect x="423.75" y="1170.63" width="109.50" height="39.6" fill="#5a93aa"/>
<text id="lab9" class="lab" transform="matrix(0.8 0 0 1 130.00 0)" x="0" y="1205.63" textLength="172.50" lengthAdjust="spacing">Guanajuato</text>
<g fill="#000" fill-rule="evenodd"><g transform="translate(295.40 1179.93) scale(1 1.0)"><path d="M3.8,0H10.5V26H3.8Z"/><path d="M3.8,0V1.4L0.6,8.4L0,8.1L3.3,0Z"/><path d="M0.9,24.9H13.5V26H0.9Z"/></g><g transform="translate(310.02 1179.93) scale(1 1.0)"><path d="M0.20000000000000018,5.5A2.8,2.8 0 1 0 5.8,5.5A2.8,2.8 0 1 0 0.20000000000000018,5.5Z"/><path d="M-0.10000000000000009,21.2A2.9,2.9 0 1 0 5.699999999999999,21.2A2.9,2.9 0 1 0 -0.10000000000000009,21.2Z"/><path d="M2.2,3C3.5,1 6,-0.5 9,-0.5C13,-0.5 15.8,2.2 15.8,5.8C15.8,9 13.5,11.2 10,11.9V12.5H6.5V11.6H7.5C9.5,11.3 10.3,9 10.3,5.8C10.3,2.3 9.5,0.5 8.3,0.5C6,0.5 4,1.5 3,3.2Z"/><path d="M6.5,11.6H10C14.5,12 17.4,15 17.4,19C17.4,23.5 13.5,26.5 8.5,26.5C5,26.5 2,25.2 1.2,23.4L1.8,23.2C3,24.8 5.5,25.5 7.8,25.5C9.8,25.5 10.3,23 10.3,19C10.3,15 9.5,12.6 7.5,12.6H6.5Z"/></g><g transform="translate(328.53 1179.93) scale(1 1.0)"><path d="M1.2,0C5,1.2 10,1.3 15.2,0.9C14.5,4.5 12,7 8,7C5.5,7 3.5,6.5 1.8,5.8V14L1.2,14.4Z"/><path d="M1.2,14.4C3,12 5.5,10.9 8.4,10.9C13.5,10.9 16.7,14.5 16.7,19C16.7,23.5 13,26.6 7.8,26.6C4.3,26.6 1.3,25.2 0.6,23.5L1.2,23.3C2.5,24.9 4.8,25.6 7.3,25.6C9.5,25.6 10.3,23 10.3,19C10.3,14.5 9.3,11.9 7.6,11.9C5.2,11.9 3,12.8 1.8,14.4Z"/><path d="M0.30000000000000027,22A2.9,2.9 0 1 0 6.1,22A2.9,2.9 0 1 0 0.30000000000000027,22Z"/></g><g transform="translate(346.35 1179.93) scale(1 1.0)"><path d="M0.10000000000000009,23.4A3.4,3.4 0 1 0 6.9,23.4A3.4,3.4 0 1 0 0.10000000000000009,23.4Z"/><path d="M6.6,23.5C7,27 5,30 1.2,31.8L0.9,31.3C3.8,29.5 5,27.5 5,25Z"/></g><g transform="translate(354.47 1179.93) scale(1 1.0)"><path d="M0.3,0H16.3V1.2L8.4,25.9H2.3L12.6,4.8H4C2,4.8 1,6 0.9,8.7H0.3Z"/></g><g transform="translate(371.88 1179.93) scale(1 1.0)"><path d="M2.0,6.3A7.9,6.8 0 1 0 17.8,6.3A7.9,6.8 0 1 0 2.0,6.3Z M7.199999999999999,6.6A2.5,4.9 0 1 0 12.2,6.6A2.5,4.9 0 1 0 7.199999999999999,6.6Z"/><path d="M0.0,19.4A9.9,7.1 0 1 0 19.8,19.4A9.9,7.1 0 1 0 0.0,19.4Z M7,19.6A3,5.9 0 1 0 13,19.6A3,5.9 0 1 0 7,19.6Z"/></g><g transform="translate(392.80 1179.93) scale(1 1.0)"><path d="M0,13A11,13.4 0 1 0 22,13A11,13.4 0 1 0 0,13Z M7.3,13A3.7,12.4 0 1 0 14.7,13A3.7,12.4 0 1 0 7.3,13Z"/></g></g>
<g fill="#000" fill-rule="evenodd"><g transform="translate(555.75 1179.93) scale(1 1.0)"><path d="M3.8,0H10.5V26H3.8Z"/><path d="M3.8,0V1.4L0.6,8.4L0,8.1L3.3,0Z"/><path d="M0.9,24.9H13.5V26H0.9Z"/></g><g transform="translate(570.91 1179.93) scale(1 1.0)"><path d="M2.0,6.3A7.9,6.8 0 1 0 17.8,6.3A7.9,6.8 0 1 0 2.0,6.3Z M7.199999999999999,6.6A2.5,4.9 0 1 0 12.2,6.6A2.5,4.9 0 1 0 7.199999999999999,6.6Z"/><path d="M0.0,19.4A9.9,7.1 0 1 0 19.8,19.4A9.9,7.1 0 1 0 0.0,19.4Z M7,19.6A3,5.9 0 1 0 13,19.6A3,5.9 0 1 0 7,19.6Z"/></g><g transform="translate(592.37 1179.93) scale(1 1.0)"><path d="M0.10000000000000009,23.4A3.4,3.4 0 1 0 6.9,23.4A3.4,3.4 0 1 0 0.10000000000000009,23.4Z"/><path d="M6.6,23.5C7,27 5,30 1.2,31.8L0.9,31.3C3.8,29.5 5,27.5 5,25Z"/></g><g transform="translate(601.03 1179.93) scale(1 1.0)"><path d="M12.5,0.8C13.8,-0.7 17.3,-0.5 17.3,1.8C17.3,3.3 16,4.6 14.2,5.6L0.9,19.5H0L11.5,3.2C11.8,2.2 12.1,1.4 12.5,0.8Z"/><path d="M0,19.4H18.3V20.5H0Z"/><path d="M9.1,11.5H15.1V25.5H9.1Z"/><path d="M6,24.9H18.6V26H6Z"/></g><g transform="translate(621.29 1179.93) scale(1 1.0)"><path d="M12.5,0.8C13.8,-0.7 17.3,-0.5 17.3,1.8C17.3,3.3 16,4.6 14.2,5.6L0.9,19.5H0L11.5,3.2C11.8,2.2 12.1,1.4 12.5,0.8Z"/><path d="M0,19.4H18.3V20.5H0Z"/><path d="M9.1,11.5H15.1V25.5H9.1Z"/><path d="M6,24.9H18.6V26H6Z"/></g><g transform="translate(641.55 1179.93) scale(1 1.0)"><path d="M1.2,0C5,1.2 10,1.3 15.2,0.9C14.5,4.5 12,7 8,7C5.5,7 3.5,6.5 1.8,5.8V14L1.2,14.4Z"/><path d="M1.2,14.4C3,12 5.5,10.9 8.4,10.9C13.5,10.9 16.7,14.5 16.7,19C16.7,23.5 13,26.6 7.8,26.6C4.3,26.6 1.3,25.2 0.6,23.5L1.2,23.3C2.5,24.9 4.8,25.6 7.3,25.6C9.5,25.6 10.3,23 10.3,19C10.3,14.5 9.3,11.9 7.6,11.9C5.2,11.9 3,12.8 1.8,14.4Z"/><path d="M0.30000000000000027,22A2.9,2.9 0 1 0 6.1,22A2.9,2.9 0 1 0 0.30000000000000027,22Z"/></g></g>
<g fill="#e41f28" fill-rule="evenodd"><g transform="translate(1013.30 1182.03) scale(1 1.0)"><path d="M3.8,0H10.5V26H3.8Z"/><path d="M3.8,0V1.4L0.6,8.4L0,8.1L3.3,0Z"/><path d="M0.9,24.9H13.5V26H0.9Z"/></g><g transform="translate(1028.44 1182.03) scale(1 1.0)"><path d="M0.20000000000000018,5.5A2.8,2.8 0 1 0 5.8,5.5A2.8,2.8 0 1 0 0.20000000000000018,5.5Z"/><path d="M-0.10000000000000009,21.2A2.9,2.9 0 1 0 5.699999999999999,21.2A2.9,2.9 0 1 0 -0.10000000000000009,21.2Z"/><path d="M2.2,3C3.5,1 6,-0.5 9,-0.5C13,-0.5 15.8,2.2 15.8,5.8C15.8,9 13.5,11.2 10,11.9V12.5H6.5V11.6H7.5C9.5,11.3 10.3,9 10.3,5.8C10.3,2.3 9.5,0.5 8.3,0.5C6,0.5 4,1.5 3,3.2Z"/><path d="M6.5,11.6H10C14.5,12 17.4,15 17.4,19C17.4,23.5 13.5,26.5 8.5,26.5C5,26.5 2,25.2 1.2,23.4L1.8,23.2C3,24.8 5.5,25.5 7.8,25.5C9.8,25.5 10.3,23 10.3,19C10.3,15 9.5,12.6 7.5,12.6H6.5Z"/></g><g transform="translate(1047.48 1182.03) scale(1 1.0)"><path d="M0.0,23.2A3.1,3.1 0 1 0 6.2,23.2A3.1,3.1 0 1 0 0.0,23.2Z"/></g><g transform="translate(1055.32 1182.03) scale(1 1.0)"><path d="M1.2,0C5,1.2 10,1.3 15.2,0.9C14.5,4.5 12,7 8,7C5.5,7 3.5,6.5 1.8,5.8V14L1.2,14.4Z"/><path d="M1.2,14.4C3,12 5.5,10.9 8.4,10.9C13.5,10.9 16.7,14.5 16.7,19C16.7,23.5 13,26.6 7.8,26.6C4.3,26.6 1.3,25.2 0.6,23.5L1.2,23.3C2.5,24.9 4.8,25.6 7.3,25.6C9.5,25.6 10.3,23 10.3,19C10.3,14.5 9.3,11.9 7.6,11.9C5.2,11.9 3,12.8 1.8,14.4Z"/><path d="M0.30000000000000027,22A2.9,2.9 0 1 0 6.1,22A2.9,2.9 0 1 0 0.30000000000000027,22Z"/></g><g transform="translate(1073.66 1182.03) scale(1 1.0)"><path d="M2.0,6.3A7.9,6.8 0 1 0 17.8,6.3A7.9,6.8 0 1 0 2.0,6.3Z M7.199999999999999,6.6A2.5,4.9 0 1 0 12.2,6.6A2.5,4.9 0 1 0 7.199999999999999,6.6Z"/><path d="M0.0,19.4A9.9,7.1 0 1 0 19.8,19.4A9.9,7.1 0 1 0 0.0,19.4Z M7,19.6A3,5.9 0 1 0 13,19.6A3,5.9 0 1 0 7,19.6Z"/></g><g transform="translate(1095.10 1182.03) scale(1 1.0)"><path d="M0,6.3A5,6.4 0 1 0 10,6.3A5,6.4 0 1 0 0,6.3Z M3.6999999999999997,6.3A1.4,5.6 0 1 0 6.5,6.3A1.4,5.6 0 1 0 3.6999999999999997,6.3Z"/><path d="M11.0,19.9A5.3,6.6 0 1 0 21.6,19.9A5.3,6.6 0 1 0 11.0,19.9Z M14.8,19.9A1.5,5.8 0 1 0 17.8,19.9A1.5,5.8 0 1 0 14.8,19.9Z"/><path d="M18.6,-0.8H19.8L2.8,27.8H1.6Z"/></g></g>
<line x1="996.05" y1="1204.99" x2="664.90" y2="1204.99" class="dots"/>
<rect x="423.75" y="1245.75" width="161.75" height="39.6" fill="#d1d2d4"/>
<rect x="423.75" y="1245.75" width="148.00" height="39.6" fill="#5a93aa"/>
<text id="lab10" class="lab" transform="matrix(0.8 0 0 1 193.40 0)" x="0" y="1280.75" textLength="93.25" lengthAdjust="spacing">Jalisco</text>
<g fill="#000" fill-rule="evenodd"><g transform="translate(293.40 1255.05) scale(1 1.0)"><path d="M3.8,0H10.5V26H3.8Z"/><path d="M3.8,0V1.4L0.6,8.4L0,8.1L3.3,0Z"/><path d="M0.9,24.9H13.5V26H0.9Z"/></g><g transform="translate(308.12 1255.05) scale(1 1.0)"><path d="M2.0,6.3A7.9,6.8 0 1 0 17.8,6.3A7.9,6.8 0 1 0 2.0,6.3Z M7.199999999999999,6.6A2.5,4.9 0 1 0 12.2,6.6A2.5,4.9 0 1 0 7.199999999999999,6.6Z"/><path d="M0.0,19.4A9.9,7.1 0 1 0 19.8,19.4A9.9,7.1 0 1 0 0.0,19.4Z M7,19.6A3,5.9 0 1 0 13,19.6A3,5.9 0 1 0 7,19.6Z"/></g><g transform="translate(329.13 1255.05) scale(1 1.0)"><path d="M0.10000000000000009,6.2A3.1,3.1 0 1 0 6.300000000000001,6.2A3.1,3.1 0 1 0 0.10000000000000009,6.2Z"/><path d="M2.5,3.3C4,1 6.8,-0.4 9.5,-0.4C14.2,-0.4 17.1,3 17.1,7.6C17.1,12.5 13,15.6 8.5,18.6L1.2,22.2H6.8L9.8,19.3C11.5,17.5 11.2,13 11.2,8C11.2,3 10.3,0.6 8.8,0.6C6.5,0.6 4.5,1.5 3.2,3.4Z"/><path d="M0,21.9H17.1V26H0Z"/><path d="M10.5,22Q15.8,21.7 16.1,18.7H17.1V22Z"/></g><g transform="translate(347.45 1255.05) scale(1 1.0)"><path d="M0.10000000000000009,23.4A3.4,3.4 0 1 0 6.9,23.4A3.4,3.4 0 1 0 0.10000000000000009,23.4Z"/><path d="M6.6,23.5C7,27 5,30 1.2,31.8L0.9,31.3C3.8,29.5 5,27.5 5,25Z"/></g><g transform="translate(355.67 1255.05) scale(1 1.0)"><g transform="matrix(0.9538 0 0 1 0 0) rotate(180 9.75 13.05)"><path d="M0.0,8.9A9.75,9.3 0 1 0 19.5,8.9A9.75,9.3 0 1 0 0.0,8.9Z M6.25,8.5A2.75,7.6 0 1 0 11.75,8.5A2.75,7.6 0 1 0 6.25,8.5Z"/><path d="M19.5,9C19.5,19 15,26.5 8,26.5C6,26.5 4.5,26.2 3.5,25.6L3.8,25C5,25.5 6.5,25.4 7.5,25.3C10.5,24.8 11.9,21 11.9,15L11.9,9Z"/><path d="M1.1,22.7A3.1,3.1 0 1 0 7.300000000000001,22.7A3.1,3.1 0 1 0 1.1,22.7Z"/></g></g><g transform="translate(375.48 1255.05) scale(1 1.0)"><path d="M0.0,8.9A9.75,9.3 0 1 0 19.5,8.9A9.75,9.3 0 1 0 0.0,8.9Z M6.25,8.5A2.75,7.6 0 1 0 11.75,8.5A2.75,7.6 0 1 0 6.25,8.5Z"/><path d="M19.5,9C19.5,19 15,26.5 8,26.5C6,26.5 4.5,26.2 3.5,25.6L3.8,25C5,25.5 6.5,25.4 7.5,25.3C10.5,24.8 11.9,21 11.9,15L11.9,9Z"/><path d="M1.1,22.7A3.1,3.1 0 1 0 7.300000000000001,22.7A3.1,3.1 0 1 0 1.1,22.7Z"/></g><g transform="translate(396.20 1255.05) scale(1 1.0)"><path d="M12.5,0.8C13.8,-0.7 17.3,-0.5 17.3,1.8C17.3,3.3 16,4.6 14.2,5.6L0.9,19.5H0L11.5,3.2C11.8,2.2 12.1,1.4 12.5,0.8Z"/><path d="M0,19.4H18.3V20.5H0Z"/><path d="M9.1,11.5H15.1V25.5H9.1Z"/><path d="M6,24.9H18.6V26H6Z"/></g></g>
<g fill="#000" fill-rule="evenodd"><g transform="translate(593.75 1255.05) scale(1 1.0)"><path d="M3.8,0H10.5V26H3.8Z"/><path d="M3.8,0V1.4L0.6,8.4L0,8.1L3.3,0Z"/><path d="M0.9,24.9H13.5V26H0.9Z"/></g><g transform="translate(607.82 1255.05) scale(1 1.0)"><path d="M0.3,0H16.3V1.2L8.4,25.9H2.3L12.6,4.8H4C2,4.8 1,6 0.9,8.7H0.3Z"/></g><g transform="translate(624.69 1255.05) scale(1 1.0)"><path d="M0.10000000000000009,23.4A3.4,3.4 0 1 0 6.9,23.4A3.4,3.4 0 1 0 0.10000000000000009,23.4Z"/><path d="M6.6,23.5C7,27 5,30 1.2,31.8L0.9,31.3C3.8,29.5 5,27.5 5,25Z"/></g><g transform="translate(632.26 1255.05) scale(1 1.0)"><path d="M0.10000000000000009,6.2A3.1,3.1 0 1 0 6.300000000000001,6.2A3.1,3.1 0 1 0 0.10000000000000009,6.2Z"/><path d="M2.5,3.3C4,1 6.8,-0.4 9.5,-0.4C14.2,-0.4 17.1,3 17.1,7.6C17.1,12.5 13,15.6 8.5,18.6L1.2,22.2H6.8L9.8,19.3C11.5,17.5 11.2,13 11.2,8C11.2,3 10.3,0.6 8.8,0.6C6.5,0.6 4.5,1.5 3.2,3.4Z"/><path d="M0,21.9H17.1V26H0Z"/><path d="M10.5,22Q15.8,21.7 16.1,18.7H17.1V22Z"/></g><g transform="translate(649.93 1255.05) scale(1 1.0)"><path d="M0,13A11,13.4 0 1 0 22,13A11,13.4 0 1 0 0,13Z M7.3,13A3.7,12.4 0 1 0 14.7,13A3.7,12.4 0 1 0 7.3,13Z"/></g><g transform="translate(672.50 1255.05) scale(1 1.0)"><path d="M3.8,0H10.5V26H3.8Z"/><path d="M3.8,0V1.4L0.6,8.4L0,8.1L3.3,0Z"/><path d="M0.9,24.9H13.5V26H0.9Z"/></g></g>
<g fill="#e41f28" fill-rule="evenodd"><g transform="translate(1020.70 1257.15) scale(1 1.0)"><path d="M0.0,8.9A9.75,9.3 0 1 0 19.5,8.9A9.75,9.3 0 1 0 0.0,8.9Z M6.25,8.5A2.75,7.6 0 1 0 11.75,8.5A2.75,7.6 0 1 0 6.25,8.5Z"/><path d="M19.5,9C19.5,19 15,26.5 8,26.5C6,26.5 4.5,26.2 3.5,25.6L3.8,25C5,25.5 6.5,25.4 7.5,25.3C10.5,24.8 11.9,21 11.9,15L11.9,9Z"/><path d="M1.1,22.7A3.1,3.1 0 1 0 7.300000000000001,22.7A3.1,3.1 0 1 0 1.1,22.7Z"/></g><g transform="translate(1041.60 1257.15) scale(1 1.0)"><path d="M0.0,23.2A3.1,3.1 0 1 0 6.2,23.2A3.1,3.1 0 1 0 0.0,23.2Z"/></g><g transform="translate(1049.20 1257.15) scale(1 1.0)"><path d="M12.5,0.8C13.8,-0.7 17.3,-0.5 17.3,1.8C17.3,3.3 16,4.6 14.2,5.6L0.9,19.5H0L11.5,3.2C11.8,2.2 12.1,1.4 12.5,0.8Z"/><path d="M0,19.4H18.3V20.5H0Z"/><path d="M9.1,11.5H15.1V25.5H9.1Z"/><path d="M6,24.9H18.6V26H6Z"/></g><g transform="translate(1069.20 1257.15) scale(1 1.0)"><path d="M0.10000000000000009,6.2A3.1,3.1 0 1 0 6.300000000000001,6.2A3.1,3.1 0 1 0 0.10000000000000009,6.2Z"/><path d="M2.5,3.3C4,1 6.8,-0.4 9.5,-0.4C14.2,-0.4 17.1,3 17.1,7.6C17.1,12.5 13,15.6 8.5,18.6L1.2,22.2H6.8L9.8,19.3C11.5,17.5 11.2,13 11.2,8C11.2,3 10.3,0.6 8.8,0.6C6.5,0.6 4.5,1.5 3.2,3.4Z"/><path d="M0,21.9H17.1V26H0Z"/><path d="M10.5,22Q15.8,21.7 16.1,18.7H17.1V22Z"/></g><g transform="translate(1087.70 1257.15) scale(1 1.0)"><path d="M0,6.3A5,6.4 0 1 0 10,6.3A5,6.4 0 1 0 0,6.3Z M3.6999999999999997,6.3A1.4,5.6 0 1 0 6.5,6.3A1.4,5.6 0 1 0 3.6999999999999997,6.3Z"/><path d="M11.0,19.9A5.3,6.6 0 1 0 21.6,19.9A5.3,6.6 0 1 0 11.0,19.9Z M14.8,19.9A1.5,5.8 0 1 0 17.8,19.9A1.5,5.8 0 1 0 14.8,19.9Z"/><path d="M18.6,-0.8H19.8L2.8,27.8H1.6Z"/></g></g>
<line x1="996.05" y1="1280.11" x2="701.10" y2="1280.11" class="dots"/>
</svg>
</body></html>
